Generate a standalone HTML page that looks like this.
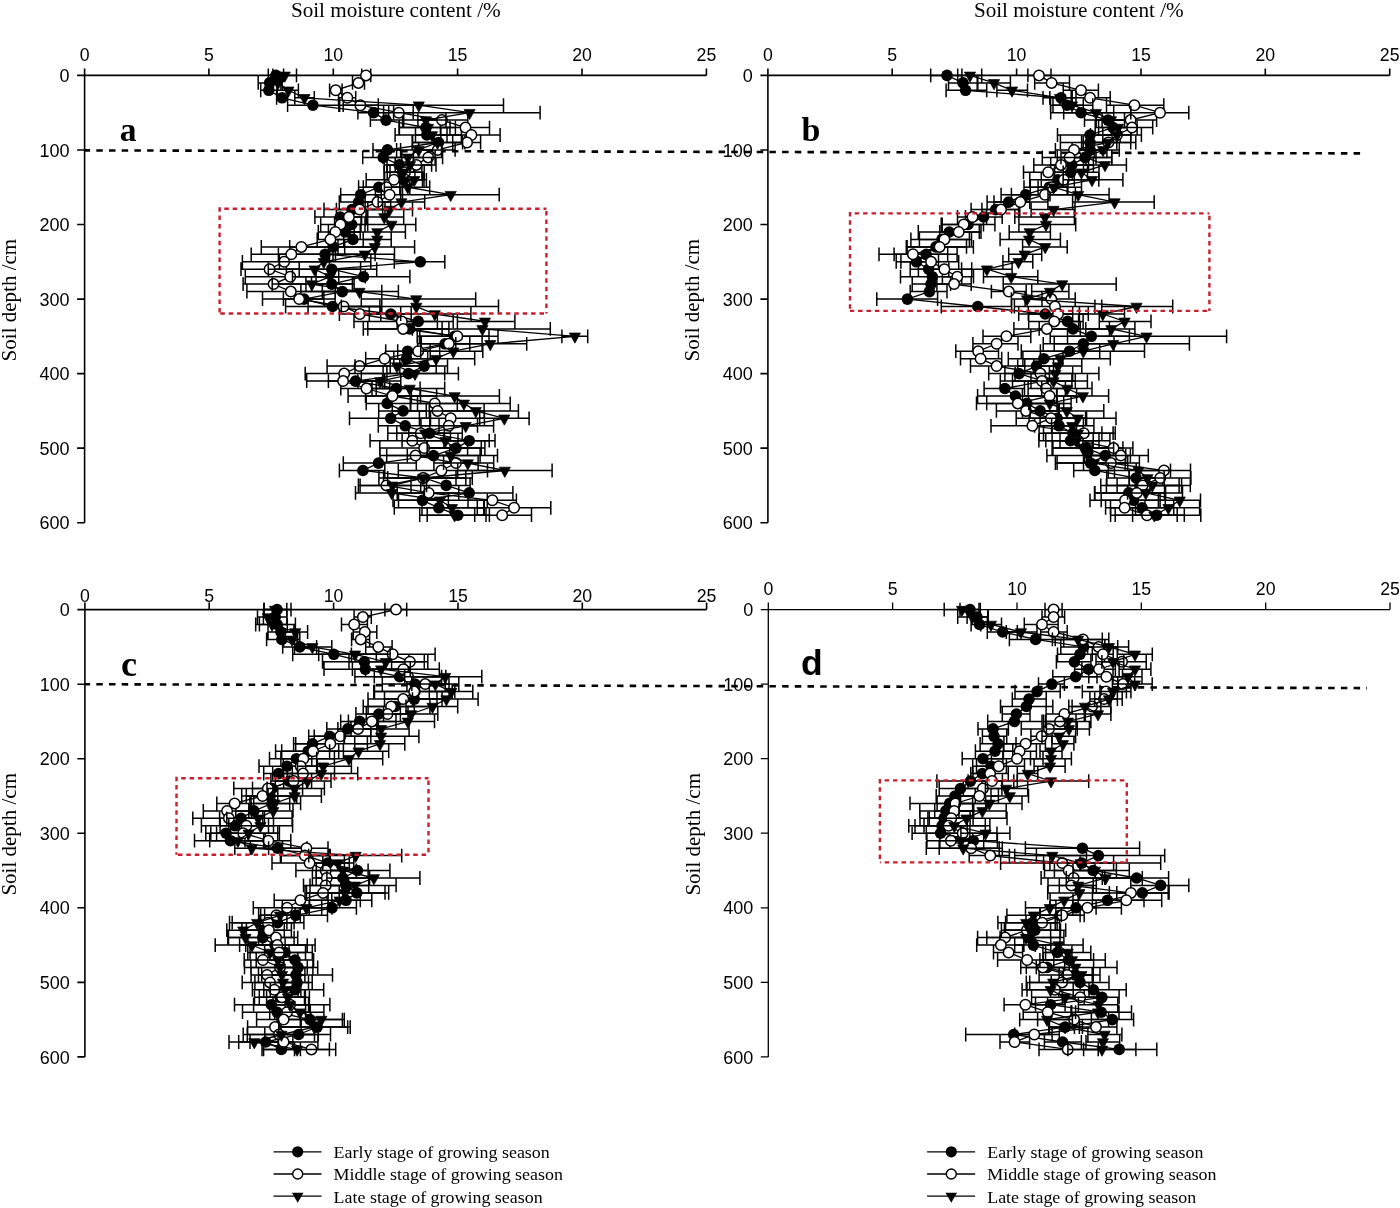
<!DOCTYPE html><html><head><meta charset="utf-8"><style>html,body{margin:0;padding:0;background:#fff;}svg{display:block;will-change:transform}</style></head><body>
<svg width="1400" height="1208" viewBox="0 0 1400 1208">
<rect width="1400" height="1208" fill="#fff"/>
<text x="290.9" y="16.6" font-family='"Liberation Serif", serif' font-size="21.2" textLength="209.8" lengthAdjust="spacingAndGlyphs">Soil moisture content /%</text>
<text x="973.9" y="16.6" font-family='"Liberation Serif", serif' font-size="21.2" textLength="209.8" lengthAdjust="spacingAndGlyphs">Soil moisture content /%</text>
<path d="M77.1 75.4H706.4M84.6 68.4V522.7" stroke="#000" stroke-width="1.6" fill="none"/>
<path d="M208.9 75.4V68.4M333.3 75.4V68.4M457.6 75.4V68.4M582 75.4V68.4M706.4 75.4V68.4M84.6 150H77.1M84.6 224.5H77.1M84.6 299.1H77.1M84.6 373.6H77.1M84.6 448.1H77.1M84.6 522.7H77.1" stroke="#000" stroke-width="1.6" fill="none"/>
<text x="84.6" y="60.7" font-family='"Liberation Sans", sans-serif' font-size="17.7" text-anchor="middle">0</text>
<text x="208.9" y="60.7" font-family='"Liberation Sans", sans-serif' font-size="17.7" text-anchor="middle">5</text>
<text x="333.3" y="60.7" font-family='"Liberation Sans", sans-serif' font-size="17.7" text-anchor="middle">10</text>
<text x="457.6" y="60.7" font-family='"Liberation Sans", sans-serif' font-size="17.7" text-anchor="middle">15</text>
<text x="582" y="60.7" font-family='"Liberation Sans", sans-serif' font-size="17.7" text-anchor="middle">20</text>
<text x="706.4" y="60.7" font-family='"Liberation Sans", sans-serif' font-size="17.7" text-anchor="middle">25</text>
<text x="69.5" y="82" font-family='"Liberation Sans", sans-serif' font-size="18" text-anchor="end">0</text>
<text x="69.5" y="156.6" font-family='"Liberation Sans", sans-serif' font-size="18" text-anchor="end">100</text>
<text x="69.5" y="231.1" font-family='"Liberation Sans", sans-serif' font-size="18" text-anchor="end">200</text>
<text x="69.5" y="305.7" font-family='"Liberation Sans", sans-serif' font-size="18" text-anchor="end">300</text>
<text x="69.5" y="380.2" font-family='"Liberation Sans", sans-serif' font-size="18" text-anchor="end">400</text>
<text x="69.5" y="454.8" font-family='"Liberation Sans", sans-serif' font-size="18" text-anchor="end">500</text>
<text x="69.5" y="529.3" font-family='"Liberation Sans", sans-serif' font-size="18" text-anchor="end">600</text>
<text transform="translate(15.9,361.4) rotate(-90)" font-family='"Liberation Serif", serif' font-size="21.3" textLength="122.6" lengthAdjust="spacingAndGlyphs">Soil depth /cm</text>
<path d="M760.4 75.4H1389.7M767.9 68.4V522.7" stroke="#000" stroke-width="1.6" fill="none"/>
<path d="M892.2 75.4V68.4M1016.6 75.4V68.4M1141 75.4V68.4M1265.3 75.4V68.4M1389.7 75.4V68.4M767.9 150H760.4M767.9 224.5H760.4M767.9 299.1H760.4M767.9 373.6H760.4M767.9 448.1H760.4M767.9 522.7H760.4" stroke="#000" stroke-width="1.6" fill="none"/>
<text x="767.9" y="60.7" font-family='"Liberation Sans", sans-serif' font-size="17.7" text-anchor="middle">0</text>
<text x="892.2" y="60.7" font-family='"Liberation Sans", sans-serif' font-size="17.7" text-anchor="middle">5</text>
<text x="1016.6" y="60.7" font-family='"Liberation Sans", sans-serif' font-size="17.7" text-anchor="middle">10</text>
<text x="1141" y="60.7" font-family='"Liberation Sans", sans-serif' font-size="17.7" text-anchor="middle">15</text>
<text x="1265.3" y="60.7" font-family='"Liberation Sans", sans-serif' font-size="17.7" text-anchor="middle">20</text>
<text x="1389.7" y="60.7" font-family='"Liberation Sans", sans-serif' font-size="17.7" text-anchor="middle">25</text>
<text x="752.8" y="82" font-family='"Liberation Sans", sans-serif' font-size="18" text-anchor="end">0</text>
<text x="752.8" y="156.6" font-family='"Liberation Sans", sans-serif' font-size="18" text-anchor="end">100</text>
<text x="752.8" y="231.1" font-family='"Liberation Sans", sans-serif' font-size="18" text-anchor="end">200</text>
<text x="752.8" y="305.7" font-family='"Liberation Sans", sans-serif' font-size="18" text-anchor="end">300</text>
<text x="752.8" y="380.2" font-family='"Liberation Sans", sans-serif' font-size="18" text-anchor="end">400</text>
<text x="752.8" y="454.8" font-family='"Liberation Sans", sans-serif' font-size="18" text-anchor="end">500</text>
<text x="752.8" y="529.3" font-family='"Liberation Sans", sans-serif' font-size="18" text-anchor="end">600</text>
<text transform="translate(699.2,361.4) rotate(-90)" font-family='"Liberation Serif", serif' font-size="21.3" textLength="122.6" lengthAdjust="spacingAndGlyphs">Soil depth /cm</text>
<path d="M77.4 609.6H706.6M84.9 602.6V1056.9" stroke="#000" stroke-width="1.6" fill="none"/>
<path d="M209.2 609.6V602.6M333.6 609.6V602.6M458 609.6V602.6M582.3 609.6V602.6M706.6 609.6V602.6M84.9 684.2H77.4M84.9 758.7H77.4M84.9 833.2H77.4M84.9 907.8H77.4M84.9 982.4H77.4M84.9 1056.9H77.4" stroke="#000" stroke-width="1.6" fill="none"/>
<text x="84.9" y="602.1" font-family='"Liberation Sans", sans-serif' font-size="17.7" text-anchor="middle">0</text>
<text x="209.2" y="602.1" font-family='"Liberation Sans", sans-serif' font-size="17.7" text-anchor="middle">5</text>
<text x="333.6" y="602.1" font-family='"Liberation Sans", sans-serif' font-size="17.7" text-anchor="middle">10</text>
<text x="458" y="602.1" font-family='"Liberation Sans", sans-serif' font-size="17.7" text-anchor="middle">15</text>
<text x="582.3" y="602.1" font-family='"Liberation Sans", sans-serif' font-size="17.7" text-anchor="middle">20</text>
<text x="706.6" y="602.1" font-family='"Liberation Sans", sans-serif' font-size="17.7" text-anchor="middle">25</text>
<text x="69.8" y="616.2" font-family='"Liberation Sans", sans-serif' font-size="18" text-anchor="end">0</text>
<text x="69.8" y="690.8" font-family='"Liberation Sans", sans-serif' font-size="18" text-anchor="end">100</text>
<text x="69.8" y="765.3" font-family='"Liberation Sans", sans-serif' font-size="18" text-anchor="end">200</text>
<text x="69.8" y="839.9" font-family='"Liberation Sans", sans-serif' font-size="18" text-anchor="end">300</text>
<text x="69.8" y="914.4" font-family='"Liberation Sans", sans-serif' font-size="18" text-anchor="end">400</text>
<text x="69.8" y="989" font-family='"Liberation Sans", sans-serif' font-size="18" text-anchor="end">500</text>
<text x="69.8" y="1063.5" font-family='"Liberation Sans", sans-serif' font-size="18" text-anchor="end">600</text>
<text transform="translate(16.2,895.6) rotate(-90)" font-family='"Liberation Serif", serif' font-size="21.3" textLength="122.6" lengthAdjust="spacingAndGlyphs">Soil depth /cm</text>
<path d="M760.8 609.6H1390M768.3 602.6V1056.9" stroke="#000" stroke-width="1.3" fill="none"/>
<path d="M892.6 609.6V602.6M1017 609.6V602.6M1141.3 609.6V602.6M1265.7 609.6V602.6M1390 609.6V602.6M768.3 684.2H760.8M768.3 758.7H760.8M768.3 833.2H760.8M768.3 907.8H760.8M768.3 982.4H760.8M768.3 1056.9H760.8" stroke="#000" stroke-width="1.3" fill="none"/>
<text x="768.3" y="595.3" font-family='"Liberation Sans", sans-serif' font-size="17.7" text-anchor="middle">0</text>
<text x="892.6" y="595.3" font-family='"Liberation Sans", sans-serif' font-size="17.7" text-anchor="middle">5</text>
<text x="1017" y="595.3" font-family='"Liberation Sans", sans-serif' font-size="17.7" text-anchor="middle">10</text>
<text x="1141.3" y="595.3" font-family='"Liberation Sans", sans-serif' font-size="17.7" text-anchor="middle">15</text>
<text x="1265.7" y="595.3" font-family='"Liberation Sans", sans-serif' font-size="17.7" text-anchor="middle">20</text>
<text x="1390" y="595.3" font-family='"Liberation Sans", sans-serif' font-size="17.7" text-anchor="middle">25</text>
<text x="753.2" y="616.2" font-family='"Liberation Sans", sans-serif' font-size="18" text-anchor="end">0</text>
<text x="753.2" y="690.8" font-family='"Liberation Sans", sans-serif' font-size="18" text-anchor="end">100</text>
<text x="753.2" y="765.3" font-family='"Liberation Sans", sans-serif' font-size="18" text-anchor="end">200</text>
<text x="753.2" y="839.9" font-family='"Liberation Sans", sans-serif' font-size="18" text-anchor="end">300</text>
<text x="753.2" y="914.4" font-family='"Liberation Sans", sans-serif' font-size="18" text-anchor="end">400</text>
<text x="753.2" y="989" font-family='"Liberation Sans", sans-serif' font-size="18" text-anchor="end">500</text>
<text x="753.2" y="1063.5" font-family='"Liberation Sans", sans-serif' font-size="18" text-anchor="end">600</text>
<text transform="translate(699.6,895.6) rotate(-90)" font-family='"Liberation Serif", serif' font-size="21.3" textLength="122.6" lengthAdjust="spacingAndGlyphs">Soil depth /cm</text>
<path d="M85 150.4L1366 153.4" stroke="#000" stroke-width="2.6" stroke-dasharray="6.5 6.2" stroke-dashoffset="1.4" fill="none"/>
<path d="M85 684.2L1367 688.1" stroke="#000" stroke-width="2.6" stroke-dasharray="6.5 6.2" stroke-dashoffset="1.4" fill="none"/>
<path d="M268.3 75.4H283.6M268.3 68.5V82.3M283.6 68.5V82.3M258.2 82.9H280.9M258.2 76V89.8M280.9 76V89.8M260.7 90.3H277M260.7 83.4V97.2M277 83.4V97.2M276.6 97.8H287.6M276.6 90.9V104.7M287.6 90.9V104.7M287.6 105.2H339.7M287.6 98.3V112.1M339.7 98.3V112.1M357.9 112.7H388.7M357.9 105.8V119.6M388.7 105.8V119.6M370.4 120.1H402.6M370.4 113.2V127M402.6 113.2V127M399.4 127.6H450M399.4 120.7V134.5M450 120.7V134.5M395.1 135H461.4M395.1 128.1V141.9M461.4 128.1V141.9M412.6 142.5H464.8M412.6 135.6V149.4M464.8 135.6V149.4M373 149.9H400.6M373 143V156.8M400.6 143V156.8M362.7 157.4H401.9M362.7 150.5V164.3M401.9 150.5V164.3M384.3 164.9H413.6M384.3 158V171.8M413.6 158V171.8M390 172.3H414.9M390 165.4V179.2M414.9 165.4V179.2M384.6 179.8H424M384.6 172.9V186.7M424 172.9V186.7M358.6 187.2H399.8M358.6 180.3V194.1M399.8 180.3V194.1M340.7 194.7H381.3M340.7 187.8V201.6M381.3 187.8V201.6M339.3 202.1H377.1M339.3 195.2V209M377.1 195.2V209M324 209.6H382.7M324 202.7V216.5M382.7 202.7V216.5M314.9 217H366.8M314.9 210.1V223.9M366.8 210.1V223.9M334.6 224.5H367.7M334.6 217.6V231.4M367.7 217.6V231.4M328.4 232H360.2M328.4 225.1V238.9M360.2 225.1V238.9M328.6 239.4H376.7M328.6 232.5V246.3M376.7 232.5V246.3M289.7 246.9H375.5M289.7 240V253.8M375.5 240V253.8M278.4 254.3H375.1M278.4 247.4V261.2M375.1 247.4V261.2M394.3 261.8H444.8M394.3 254.9V268.7M444.8 254.9V268.7M286.4 269.2H376.7M286.4 262.3V276.1M376.7 262.3V276.1M316.1 276.7H409.9M316.1 269.8V283.6M409.9 269.8V283.6M311.5 284.1H352.4M311.5 277.2V291M352.4 277.2V291M300.9 291.6H381.8M300.9 284.7V298.5M381.8 284.7V298.5M283.4 299.1H323.9M283.4 292.2V305.9M323.9 292.2V305.9M285.6 306.5H381.8M285.6 299.6V313.4M381.8 299.6V313.4M369.3 314H411.2M369.3 307.1V320.9M411.2 307.1V320.9M397.2 321.4H437.4M397.2 314.5V328.3M437.4 314.5V328.3M367.8 328.9H448.9M367.8 322V335.8M448.9 322V335.8M419.8 336.3H489M419.8 329.4V343.2M489 329.4V343.2M421.3 343.8H469.8M421.3 336.9V350.7M469.8 336.9V350.7M385.7 351.2H430.2M385.7 344.3V358.1M430.2 344.3V358.1M385 358.7H427.7M385 351.8V365.6M427.7 351.8V365.6M399.8 366.1H447.5M399.8 359.2V373M447.5 359.2V373M361.3 373.6H458.4M361.3 366.7V380.5M458.4 366.7V380.5M328.4 381.1H384.7M328.4 374.2V388M384.7 374.2V388M372 388.5H420.1M372 381.6V395.4M420.1 381.6V395.4M348.1 396H436.6M348.1 389.1V402.9M436.6 389.1V402.9M366.2 403.4H410.3M366.2 396.5V410.3M410.3 396.5V410.3M378.7 410.9H426.3M378.7 404V417.8M426.3 404V417.8M349.5 418.3H430.5M349.5 411.4V425.2M430.5 411.4V425.2M378.3 425.8H429.8M378.3 418.9V432.7M429.8 418.9V432.7M408.8 433.2H450.5M408.8 426.3V440.1M450.5 426.3V440.1M443.9 440.7H495M443.9 433.8V447.6M495 433.8V447.6M426.8 448.1H484.9M426.8 441.2V455M484.9 441.2V455M386.7 455.6H480.1M386.7 448.7V462.5M480.1 448.7V462.5M343.3 463.1H416.3M343.3 456.2V470M416.3 456.2V470M339.4 470.5H384.8M339.4 463.6V477.4M384.8 463.6V477.4M378.9 478H472.3M378.9 471.1V484.9M472.3 471.1V484.9M420.7 485.4H470.1M420.7 478.5V492.3M470.1 478.5V492.3M429 492.9H512.9M429 486V499.8M512.9 486V499.8M398.5 500.3H448.4M398.5 493.4V507.2M448.4 493.4V507.2M394.3 507.8H484.2M394.3 500.9V514.7M484.2 500.9V514.7M427.2 515.2H486M427.2 508.3V522.1M486 508.3V522.1" stroke="#000" stroke-width="1.5" fill="none"/>
<path d="M275.9 75.4L269.6 82.9L268.8 90.3L282.1 97.8L312.9 105.2L373.6 112.7L386 120.1L425.9 127.6L426.8 135L438.4 142.5L387.5 149.9L383.2 157.4L399.3 164.9L402.5 172.3L403.6 179.8L378.9 187.2L360.7 194.7L358.6 202.1L352 209.6L340.3 217L351.6 224.5L345 232L352.9 239.4L333.1 246.9L325.1 254.3L420.3 261.8L331.7 269.2L363.5 276.7L331.7 284.1L342.3 291.6L304 299.1L332.5 306.5L390.8 314L418.2 321.4L409.7 328.9L454.6 336.3L445 343.8L407.6 351.2L406.5 358.7L424.2 366.1L408.4 373.6L355.5 381.1L396.3 388.5L391.7 396L387.2 403.4L403.1 410.9L390.7 418.3L405.2 425.8L429.5 433.2L469.2 440.7L456 448.1L433.5 455.6L378.5 463.1L362.9 470.5L424.2 478L446.2 485.4L469.2 492.9L422.4 500.3L438.8 507.8L457.8 515.2" stroke="#000" stroke-width="1.3" fill="none"/>
<circle cx="275.9" cy="75.4" r="5.8"/><circle cx="269.6" cy="82.9" r="5.8"/><circle cx="268.8" cy="90.3" r="5.8"/><circle cx="282.1" cy="97.8" r="5.8"/><circle cx="312.9" cy="105.2" r="5.8"/><circle cx="373.6" cy="112.7" r="5.8"/><circle cx="386" cy="120.1" r="5.8"/><circle cx="425.9" cy="127.6" r="5.8"/><circle cx="426.8" cy="135" r="5.8"/><circle cx="438.4" cy="142.5" r="5.8"/><circle cx="387.5" cy="149.9" r="5.8"/><circle cx="383.2" cy="157.4" r="5.8"/><circle cx="399.3" cy="164.9" r="5.8"/><circle cx="402.5" cy="172.3" r="5.8"/><circle cx="403.6" cy="179.8" r="5.8"/><circle cx="378.9" cy="187.2" r="5.8"/><circle cx="360.7" cy="194.7" r="5.8"/><circle cx="358.6" cy="202.1" r="5.8"/><circle cx="352" cy="209.6" r="5.8"/><circle cx="340.3" cy="217" r="5.8"/><circle cx="351.6" cy="224.5" r="5.8"/><circle cx="345" cy="232" r="5.8"/><circle cx="352.9" cy="239.4" r="5.8"/><circle cx="333.1" cy="246.9" r="5.8"/><circle cx="325.1" cy="254.3" r="5.8"/><circle cx="420.3" cy="261.8" r="5.8"/><circle cx="331.7" cy="269.2" r="5.8"/><circle cx="363.5" cy="276.7" r="5.8"/><circle cx="331.7" cy="284.1" r="5.8"/><circle cx="342.3" cy="291.6" r="5.8"/><circle cx="304" cy="299.1" r="5.8"/><circle cx="332.5" cy="306.5" r="5.8"/><circle cx="390.8" cy="314" r="5.8"/><circle cx="418.2" cy="321.4" r="5.8"/><circle cx="409.7" cy="328.9" r="5.8"/><circle cx="454.6" cy="336.3" r="5.8"/><circle cx="445" cy="343.8" r="5.8"/><circle cx="407.6" cy="351.2" r="5.8"/><circle cx="406.5" cy="358.7" r="5.8"/><circle cx="424.2" cy="366.1" r="5.8"/><circle cx="408.4" cy="373.6" r="5.8"/><circle cx="355.5" cy="381.1" r="5.8"/><circle cx="396.3" cy="388.5" r="5.8"/><circle cx="391.7" cy="396" r="5.8"/><circle cx="387.2" cy="403.4" r="5.8"/><circle cx="403.1" cy="410.9" r="5.8"/><circle cx="390.7" cy="418.3" r="5.8"/><circle cx="405.2" cy="425.8" r="5.8"/><circle cx="429.5" cy="433.2" r="5.8"/><circle cx="469.2" cy="440.7" r="5.8"/><circle cx="456" cy="448.1" r="5.8"/><circle cx="433.5" cy="455.6" r="5.8"/><circle cx="378.5" cy="463.1" r="5.8"/><circle cx="362.9" cy="470.5" r="5.8"/><circle cx="424.2" cy="478" r="5.8"/><circle cx="446.2" cy="485.4" r="5.8"/><circle cx="469.2" cy="492.9" r="5.8"/><circle cx="422.4" cy="500.3" r="5.8"/><circle cx="438.8" cy="507.8" r="5.8"/><circle cx="457.8" cy="515.2" r="5.8"/>
<path d="M361.7 75.4H370.7M361.7 68.5V82.3M370.7 68.5V82.3M352.5 82.9H364.5M352.5 76V89.8M364.5 76V89.8M329.6 90.3H342.1M329.6 83.4V97.2M342.1 83.4V97.2M338.5 97.8H355.7M338.5 90.9V104.7M355.7 90.9V104.7M343.2 105.2H378.3M343.2 98.3V112.1M378.3 98.3V112.1M383.6 112.7H413.2M383.6 105.8V119.6M413.2 105.8V119.6M417.9 120.1H467.8M417.9 113.2V127M467.8 113.2V127M440.4 127.6H489.5M440.4 120.7V134.5M489.5 120.7V134.5M440.9 135H500.1M440.9 128.1V141.9M500.1 128.1V141.9M452.7 142.5H480.6M452.7 135.6V149.4M480.6 135.6V149.4M418.6 149.9H455.1M418.6 143V156.8M455.1 143V156.8M413.4 157.4H442.6M413.4 150.5V164.3M442.6 150.5V164.3M395.2 164.9H436M395.2 158V171.8M436 158V171.8M387.2 172.3H424.2M387.2 165.4V179.2M424.2 165.4V179.2M366.2 179.8H422.5M366.2 172.9V186.7M422.5 172.9V186.7M363.3 187.2H409.8M363.3 180.3V194.1M409.8 180.3V194.1M375.4 194.7H402.5M375.4 187.8V201.6M402.5 187.8V201.6M365.1 202.1H390.7M365.1 195.2V209M390.7 195.2V209M336.4 209.6H385M336.4 202.7V216.5M385 202.7V216.5M336.6 217H361.6M336.6 210.1V223.9M361.6 210.1V223.9M320.7 224.5H361M320.7 217.6V231.4M361 217.6V231.4M318.3 232H354.2M318.3 225.1V238.9M354.2 225.1V238.9M317.2 239.4H343.7M317.2 232.5V246.3M343.7 232.5V246.3M261.3 246.9H344.7M261.3 240V253.8M344.7 240V253.8M251.2 254.3H333M251.2 247.4V261.2M333 247.4V261.2M242.4 261.8H329.5M242.4 254.9V268.7M329.5 254.9V268.7M241 269.2H299.2M241 262.3V276.1M299.2 262.3V276.1M245.3 276.7H338.7M245.3 269.8V283.6M338.7 269.8V283.6M243.1 284.1H305.9M243.1 277.2V291M305.9 277.2V291M246.9 291.6H335.3M246.9 284.7V298.5M335.3 284.7V298.5M262.5 299.1H335.1M262.5 292.2V305.9M335.1 292.2V305.9M308.1 306.5H379.9M308.1 299.6V313.4M379.9 299.6V313.4M339.4 314H380.8M339.4 307.1V320.9M380.8 307.1V320.9M354 321.4H453.2M354 314.5V328.3M453.2 314.5V328.3M363.3 328.9H442.1M363.3 322V335.8M442.1 322V335.8M417.2 336.3H498M417.2 329.4V343.2M498 329.4V343.2M417.6 343.8H482.1M417.6 336.9V350.7M482.1 336.9V350.7M397.7 351.2H439.7M397.7 344.3V358.1M439.7 344.3V358.1M365.7 358.7H403.9M365.7 351.8V365.6M403.9 351.8V365.6M327.1 366.1H390.2M327.1 359.2V373M390.2 359.2V373M305.2 373.6H383.1M305.2 366.7V380.5M383.1 366.7V380.5M306.7 381.1H382.6M306.7 374.2V388M382.6 374.2V388M340.8 388.5H389.7M340.8 381.6V395.4M389.7 381.6V395.4M365.5 396H420.5M365.5 389.1V402.9M420.5 389.1V402.9M410.7 403.4H457.3M410.7 396.5V410.3M457.3 396.5V410.3M392.3 410.9H484.1M392.3 404V417.8M484.1 404V417.8M419.4 418.3H484.4M419.4 411.4V425.2M484.4 411.4V425.2M421 425.8H477.5M421 418.9V432.7M477.5 418.9V432.7M396.8 433.2H444.4M396.8 426.3V440.1M444.4 426.3V440.1M370.1 440.7H458M370.1 433.8V447.6M458 433.8V447.6M379.8 448.1H467.6M379.8 441.2V455M467.6 441.2V455M380 455.6H449.7M380 448.7V462.5M449.7 448.7V462.5M433.9 463.1H478.1M433.9 456.2V470M478.1 456.2V470M398.3 470.5H487.5M398.3 463.6V477.4M487.5 463.6V477.4M383.6 478H465.8M383.6 471.1V484.9M465.8 471.1V484.9M360.1 485.4H411M360.1 478.5V492.3M411 478.5V492.3M397.2 492.9H458.8M397.2 486V499.8M458.8 486V499.8M468 500.3H516.4M468 493.4V507.2M516.4 493.4V507.2M477.3 507.8H550.8M477.3 500.9V514.7M550.8 500.9V514.7M474.7 515.2H531.5M474.7 508.3V522.1M531.5 508.3V522.1" stroke="#000" stroke-width="1.5" fill="none"/>
<path d="M366 75.4L358.4 82.9L335.7 90.3L347.3 97.8L360.4 105.2L398.8 112.7L442 120.1L465.5 127.6L471.4 135L467 142.5L437.7 149.9L428.2 157.4L416.4 164.9L405 172.3L393.9 179.8L386.4 187.2L389.6 194.7L377.4 202.1L359.6 209.6L348.9 217L340.4 224.5L335.4 232L330.4 239.4L301.4 246.9L291.3 254.3L284.2 261.8L269.6 269.2L290.3 276.7L273.6 284.1L290.8 291.6L299.2 299.1L343.6 306.5L359.8 314L401.8 321.4L403.1 328.9L457.3 336.3L448.8 343.8L418.2 351.2L384.6 358.7L359.5 366.1L344.2 373.6L343.1 381.1L366.5 388.5L392.5 396L434.8 403.4L437.5 410.9L450.7 418.3L448.8 425.8L420.8 433.2L412.3 440.7L424.2 448.1L415.5 455.6L456 463.1L441.4 470.5L422.9 478L386.4 485.4L428.7 492.9L492.4 500.3L514.1 507.8L502.2 515.2" stroke="#000" stroke-width="1.3" fill="none"/>
<g fill="#fff" stroke="#000" stroke-width="1.5"><circle cx="366" cy="75.4" r="5.25"/><circle cx="358.4" cy="82.9" r="5.25"/><circle cx="335.7" cy="90.3" r="5.25"/><circle cx="347.3" cy="97.8" r="5.25"/><circle cx="360.4" cy="105.2" r="5.25"/><circle cx="398.8" cy="112.7" r="5.25"/><circle cx="442" cy="120.1" r="5.25"/><circle cx="465.5" cy="127.6" r="5.25"/><circle cx="471.4" cy="135" r="5.25"/><circle cx="467" cy="142.5" r="5.25"/><circle cx="437.7" cy="149.9" r="5.25"/><circle cx="428.2" cy="157.4" r="5.25"/><circle cx="416.4" cy="164.9" r="5.25"/><circle cx="405" cy="172.3" r="5.25"/><circle cx="393.9" cy="179.8" r="5.25"/><circle cx="386.4" cy="187.2" r="5.25"/><circle cx="389.6" cy="194.7" r="5.25"/><circle cx="377.4" cy="202.1" r="5.25"/><circle cx="359.6" cy="209.6" r="5.25"/><circle cx="348.9" cy="217" r="5.25"/><circle cx="340.4" cy="224.5" r="5.25"/><circle cx="335.4" cy="232" r="5.25"/><circle cx="330.4" cy="239.4" r="5.25"/><circle cx="301.4" cy="246.9" r="5.25"/><circle cx="291.3" cy="254.3" r="5.25"/><circle cx="284.2" cy="261.8" r="5.25"/><circle cx="269.6" cy="269.2" r="5.25"/><circle cx="290.3" cy="276.7" r="5.25"/><circle cx="273.6" cy="284.1" r="5.25"/><circle cx="290.8" cy="291.6" r="5.25"/><circle cx="299.2" cy="299.1" r="5.25"/><circle cx="343.6" cy="306.5" r="5.25"/><circle cx="359.8" cy="314" r="5.25"/><circle cx="401.8" cy="321.4" r="5.25"/><circle cx="403.1" cy="328.9" r="5.25"/><circle cx="457.3" cy="336.3" r="5.25"/><circle cx="448.8" cy="343.8" r="5.25"/><circle cx="418.2" cy="351.2" r="5.25"/><circle cx="384.6" cy="358.7" r="5.25"/><circle cx="359.5" cy="366.1" r="5.25"/><circle cx="344.2" cy="373.6" r="5.25"/><circle cx="343.1" cy="381.1" r="5.25"/><circle cx="366.5" cy="388.5" r="5.25"/><circle cx="392.5" cy="396" r="5.25"/><circle cx="434.8" cy="403.4" r="5.25"/><circle cx="437.5" cy="410.9" r="5.25"/><circle cx="450.7" cy="418.3" r="5.25"/><circle cx="448.8" cy="425.8" r="5.25"/><circle cx="420.8" cy="433.2" r="5.25"/><circle cx="412.3" cy="440.7" r="5.25"/><circle cx="424.2" cy="448.1" r="5.25"/><circle cx="415.5" cy="455.6" r="5.25"/><circle cx="456" cy="463.1" r="5.25"/><circle cx="441.4" cy="470.5" r="5.25"/><circle cx="422.9" cy="478" r="5.25"/><circle cx="386.4" cy="485.4" r="5.25"/><circle cx="428.7" cy="492.9" r="5.25"/><circle cx="492.4" cy="500.3" r="5.25"/><circle cx="514.1" cy="507.8" r="5.25"/><circle cx="502.2" cy="515.2" r="5.25"/></g>
<path d="M272.9 75.4H296.5M272.9 68.5V82.3M296.5 68.5V82.3M273.4 82.9H282.2M273.4 76V89.8M282.2 76V89.8M277.4 90.3H298.4M277.4 83.4V97.2M298.4 83.4V97.2M294.8 97.8H314.3M294.8 90.9V104.7M314.3 90.9V104.7M338.8 105.2H503.5M338.8 98.3V112.1M503.5 98.3V112.1M393.6 112.7H540.1M393.6 105.8V119.6M540.1 105.8V119.6M403.7 120.1H446M403.7 113.2V127M446 113.2V127M399.1 127.6H455.4M399.1 120.7V134.5M455.4 120.7V134.5M415.5 135H447M415.5 128.1V141.9M447 128.1V141.9M412.2 142.5H462.6M412.2 135.6V149.4M462.6 135.6V149.4M396.6 149.9H441.5M396.6 143V156.8M441.5 143V156.8M383 157.4H435.1M383 150.5V164.3M435.1 150.5V164.3M387 164.9H431.6M387 158V171.8M431.6 158V171.8M384 172.3H421.9M384 165.4V179.2M421.9 165.4V179.2M402.1 179.8H426.4M402.1 172.9V186.7M426.4 172.9V186.7M384.4 187.2H429.7M384.4 180.3V194.1M429.7 180.3V194.1M400.7 194.7H499.2M400.7 187.8V201.6M499.2 187.8V201.6M378.2 202.1H424.7M378.2 195.2V209M424.7 195.2V209M367.8 209.6H412.5M367.8 202.7V216.5M412.5 202.7V216.5M366 217H403.7M366 210.1V223.9M403.7 210.1V223.9M365 224.5H415.8M365 217.6V231.4M415.8 217.6V231.4M350.4 232H405.4M350.4 225.1V238.9M405.4 225.1V238.9M363.2 239.4H391.2M363.2 232.5V246.3M391.2 232.5V246.3M338 246.9H414.6M338 240V253.8M414.6 240V253.8M335.5 254.3H394.5M335.5 247.4V261.2M394.5 247.4V261.2M279.4 261.8H370.8M279.4 254.9V268.7M370.8 254.9V268.7M268.3 269.2H360.6M268.3 262.3V276.1M360.6 262.3V276.1M292.5 276.7H365.3M292.5 269.8V283.6M365.3 269.8V283.6M272.2 284.1H354.1M272.2 277.2V291M354.1 277.2V291M322.3 291.6H398.4M322.3 284.7V298.5M398.4 284.7V298.5M361.3 299.1H475.7M361.3 292.2V305.9M475.7 292.2V305.9M341.3 306.5H498.5M341.3 299.6V313.4M498.5 299.6V313.4M400.7 314H470.9M400.7 307.1V320.9M470.9 307.1V320.9M457.4 321.4H514.9M457.4 314.5V328.3M514.9 314.5V328.3M412.4 328.9H550.3M412.4 322V335.8M550.3 322V335.8M561.9 336.3H587.7M561.9 329.4V343.2M587.7 329.4V343.2M455.8 343.8H526.7M455.8 336.9V350.7M526.7 336.9V350.7M420.7 351.2H482.8M420.7 344.3V358.1M482.8 344.3V358.1M393.8 358.7H474.7M393.8 351.8V365.6M474.7 351.8V365.6M355 366.1H436.2M355 359.2V373M436.2 359.2V373M386.9 373.6H444.7M386.9 366.7V380.5M444.7 366.7V380.5M357.9 381.1H400.8M357.9 374.2V388M400.8 374.2V388M376.2 388.5H444.7M376.2 381.6V395.4M444.7 381.6V395.4M411.4 396H499.4M411.4 389.1V402.9M499.4 389.1V402.9M417.5 403.4H510.2M417.5 396.5V410.3M510.2 396.5V410.3M429.3 410.9H518.4M429.3 404V417.8M518.4 404V417.8M479.7 418.3H529.1M479.7 411.4V425.2M529.1 411.4V425.2M439 425.8H493.6M439 418.9V432.7M493.6 418.9V432.7M387.8 433.2H462.3M387.8 426.3V440.1M462.3 426.3V440.1M402.1 440.7H489.2M402.1 433.8V447.6M489.2 433.8V447.6M427.2 448.1H481.3M427.2 441.2V455M481.3 441.2V455M407.3 455.6H497.5M407.3 448.7V462.5M497.5 448.7V462.5M443.6 463.1H493.7M443.6 456.2V470M493.7 456.2V470M457.7 470.5H552.1M457.7 463.6V477.4M552.1 463.6V477.4M387.7 478H456M387.7 471.1V484.9M456 471.1V484.9M358.4 485.4H426.6M358.4 478.5V492.3M426.6 478.5V492.3M355.5 492.9H424.4M355.5 486V499.8M424.4 486V499.8M393 500.3H487.3M393 493.4V507.2M487.3 493.4V507.2M422 507.8H483.8M422 500.9V514.7M483.8 500.9V514.7M419.7 515.2H489.4M419.7 508.3V522.1M489.4 508.3V522.1" stroke="#000" stroke-width="1.5" fill="none"/>
<path d="M284.8 75.4L278 82.9L288.4 90.3L304.5 97.8L418.8 105.2L469.6 112.7L425.9 120.1L428 127.6L432 135L437.5 142.5L418.7 149.9L407.9 157.4L410 164.9L403.6 172.3L414.3 179.8L407.8 187.2L450.7 194.7L401.4 202.1L389.6 209.6L384.3 217L391.5 224.5L377.3 232L377.3 239.4L374.8 246.9L364.8 254.3L323.8 261.8L314.6 269.2L330 276.7L311.9 284.1L359.5 291.6L416.3 299.1L416.3 306.5L434.8 314L485 321.4L482.4 328.9L574.9 336.3L490.3 343.8L453.3 351.2L436.1 358.7L397 366.1L415 373.6L380.1 381.1L409.7 388.5L454.6 396L463.9 403.4L475.8 410.9L504.3 418.3L465.7 425.8L425 433.2L445.4 440.7L454.6 448.1L450.7 455.6L467.8 463.1L504.8 470.5L422.9 478L392.5 485.4L391.7 492.9L440.1 500.3L452 507.8L454.6 515.2" stroke="#000" stroke-width="1.3" fill="none"/>
<g stroke="#000" stroke-width="0.7" stroke-linejoin="round"><path d="M279.2 72.1H290.4L284.8 82.3Z"/><path d="M272.4 79.6H283.6L278 89.8Z"/><path d="M282.8 87H294L288.4 97.2Z"/><path d="M298.9 94.5H310.1L304.5 104.7Z"/><path d="M413.2 101.9H424.4L418.8 112.1Z"/><path d="M464 109.4H475.2L469.6 119.6Z"/><path d="M420.3 116.8H431.5L425.9 127Z"/><path d="M422.4 124.3H433.6L428 134.5Z"/><path d="M426.4 131.7H437.6L432 141.9Z"/><path d="M431.9 139.2H443.1L437.5 149.4Z"/><path d="M413.1 146.6H424.3L418.7 156.8Z"/><path d="M402.3 154.1H413.5L407.9 164.3Z"/><path d="M404.4 161.6H415.6L410 171.8Z"/><path d="M398 169H409.2L403.6 179.2Z"/><path d="M408.7 176.5H419.9L414.3 186.7Z"/><path d="M402.2 183.9H413.4L407.8 194.1Z"/><path d="M445.1 191.4H456.3L450.7 201.6Z"/><path d="M395.8 198.8H407L401.4 209Z"/><path d="M384 206.3H395.2L389.6 216.5Z"/><path d="M378.7 213.7H389.9L384.3 223.9Z"/><path d="M385.9 221.2H397.1L391.5 231.4Z"/><path d="M371.7 228.7H382.9L377.3 238.9Z"/><path d="M371.7 236.1H382.9L377.3 246.3Z"/><path d="M369.2 243.6H380.4L374.8 253.8Z"/><path d="M359.2 251H370.4L364.8 261.2Z"/><path d="M318.2 258.5H329.4L323.8 268.7Z"/><path d="M309 265.9H320.2L314.6 276.1Z"/><path d="M324.4 273.4H335.6L330 283.6Z"/><path d="M306.3 280.8H317.5L311.9 291Z"/><path d="M353.9 288.3H365.1L359.5 298.5Z"/><path d="M410.7 295.8H421.9L416.3 305.9Z"/><path d="M410.7 303.2H421.9L416.3 313.4Z"/><path d="M429.2 310.7H440.4L434.8 320.9Z"/><path d="M479.4 318.1H490.6L485 328.3Z"/><path d="M476.8 325.6H488L482.4 335.8Z"/><path d="M569.3 333H580.5L574.9 343.2Z"/><path d="M484.7 340.5H495.9L490.3 350.7Z"/><path d="M447.7 347.9H458.9L453.3 358.1Z"/><path d="M430.5 355.4H441.7L436.1 365.6Z"/><path d="M391.4 362.8H402.6L397 373Z"/><path d="M409.4 370.3H420.6L415 380.5Z"/><path d="M374.5 377.8H385.7L380.1 388Z"/><path d="M404.1 385.2H415.3L409.7 395.4Z"/><path d="M449 392.7H460.2L454.6 402.9Z"/><path d="M458.3 400.1H469.5L463.9 410.3Z"/><path d="M470.2 407.6H481.4L475.8 417.8Z"/><path d="M498.7 415H509.9L504.3 425.2Z"/><path d="M460.1 422.5H471.3L465.7 432.7Z"/><path d="M419.4 429.9H430.6L425 440.1Z"/><path d="M439.8 437.4H451L445.4 447.6Z"/><path d="M449 444.8H460.2L454.6 455Z"/><path d="M445.1 452.3H456.3L450.7 462.5Z"/><path d="M462.2 459.8H473.4L467.8 470Z"/><path d="M499.2 467.2H510.4L504.8 477.4Z"/><path d="M417.3 474.7H428.5L422.9 484.9Z"/><path d="M386.9 482.1H398.1L392.5 492.3Z"/><path d="M386.1 489.6H397.3L391.7 499.8Z"/><path d="M434.5 497H445.7L440.1 507.2Z"/><path d="M446.4 504.5H457.6L452 514.7Z"/><path d="M449 511.9H460.2L454.6 522.1Z"/></g>
<path d="M930.7 75.4H961.9M930.7 68.5V82.3M961.9 68.5V82.3M948.5 82.9H977.2M948.5 76V89.8M977.2 76V89.8M946.1 90.3H986.7M946.1 83.4V97.2M986.7 83.4V97.2M1049.8 97.8H1072.2M1049.8 90.9V104.7M1072.2 90.9V104.7M1050.5 105.2H1083.3M1050.5 98.3V112.1M1083.3 98.3V112.1M1050.7 112.7H1113.7M1050.7 105.8V119.6M1113.7 105.8V119.6M1084.5 120.1H1130.7M1084.5 113.2V127M1130.7 113.2V127M1095.2 127.6H1131.2M1095.2 120.7V134.5M1131.2 120.7V134.5M1057.5 135H1120.1M1057.5 128.1V141.9M1120.1 128.1V141.9M1060.4 142.5H1116.8M1060.4 135.6V149.4M1116.8 135.6V149.4M1072.1 149.9H1106.9M1072.1 143V156.8M1106.9 143V156.8M1057.3 157.4H1111.8M1057.3 150.5V164.3M1111.8 150.5V164.3M1050.7 164.9H1093.4M1050.7 158V171.8M1093.4 158V171.8M1054.6 172.3H1087.5M1054.6 165.4V179.2M1087.5 165.4V179.2M1041.3 179.8H1074.3M1041.3 172.9V186.7M1074.3 172.9V186.7M1030.3 187.2H1067.2M1030.3 180.3V194.1M1067.2 180.3V194.1M1001.1 194.7H1050M1001.1 187.8V201.6M1050 187.8V201.6M987.1 202.1H1029.7M987.1 195.2V209M1029.7 195.2V209M971.1 209.6H1018.6M971.1 202.7V216.5M1018.6 202.7V216.5M965.5 217H1002.2M965.5 210.1V223.9M1002.2 210.1V223.9M941.2 224.5H994.9M941.2 217.6V231.4M994.9 217.6V231.4M918.3 232H981M918.3 225.1V238.9M981 225.1V238.9M910.9 239.4H971.5M910.9 232.5V246.3M971.5 232.5V246.3M907.1 246.9H966.5M907.1 240V253.8M966.5 240V253.8M894.1 254.3H957.1M894.1 247.4V261.2M957.1 247.4V261.2M896.2 261.8H938.5M896.2 254.9V268.7M938.5 254.9V268.7M910.2 269.2H948.8M910.2 262.3V276.1M948.8 262.3V276.1M900.5 276.7H961.7M900.5 269.8V283.6M961.7 269.8V283.6M912.2 284.1H950.6M912.2 277.2V291M950.6 277.2V291M910.2 291.6H947M910.2 284.7V298.5M947 284.7V298.5M876.8 299.1H937.6M876.8 292.2V305.9M937.6 292.2V305.9M941.3 306.5H1011.6M941.3 299.6V313.4M1011.6 299.6V313.4M1018.7 314H1072.7M1018.7 307.1V320.9M1072.7 307.1V320.9M1051.1 321.4H1083.1M1051.1 314.5V328.3M1083.1 314.5V328.3M1039.2 328.9H1109.4M1039.2 322V335.8M1109.4 322V335.8M1050.2 336.3H1129.4M1050.2 329.4V343.2M1129.4 329.4V343.2M1054.2 343.8H1114M1054.2 336.9V350.7M1114 336.9V350.7M1040.4 351.2H1099.7M1040.4 344.3V358.1M1099.7 344.3V358.1M1022.9 358.7H1062.9M1022.9 351.8V365.6M1062.9 351.8V365.6M1017.7 366.1H1053.5M1017.7 359.2V373M1053.5 359.2V373M988.7 373.6H1049.4M988.7 366.7V380.5M1049.4 366.7V380.5M1012.5 381.1H1071.9M1012.5 374.2V388M1071.9 374.2V388M984.1 388.5H1024.5M984.1 381.6V395.4M1024.5 381.6V395.4M977.6 396H1057M977.6 389.1V402.9M1057 389.1V402.9M986.7 403.4H1063.7M986.7 396.5V410.3M1063.7 396.5V410.3M1022.5 410.9H1059.3M1022.5 404V417.8M1059.3 404V417.8M1029.1 418.3H1086.6M1029.1 411.4V425.2M1086.6 411.4V425.2M1034.6 425.8H1083.4M1034.6 418.9V432.7M1083.4 418.9V432.7M1043.5 433.2H1101.9M1043.5 426.3V440.1M1101.9 426.3V440.1M1038.9 440.7H1099M1038.9 433.8V447.6M1099 433.8V447.6M1052.1 448.1H1122.9M1052.1 441.2V455M1122.9 441.2V455M1084.5 455.6H1125.7M1084.5 448.7V462.5M1125.7 448.7V462.5M1055.4 463.1H1125.2M1055.4 456.2V470M1125.2 456.2V470M1073.7 470.5H1114.5M1073.7 463.6V477.4M1114.5 463.6V477.4M1106.8 478H1162.6M1106.8 471.1V484.9M1162.6 471.1V484.9M1100.8 485.4H1181.6M1100.8 478.5V492.3M1181.6 478.5V492.3M1094.5 492.9H1165.6M1094.5 486V499.8M1165.6 486V499.8M1101.2 500.3H1165.3M1101.2 493.4V507.2M1165.3 493.4V507.2M1110.5 507.8H1173.7M1110.5 500.9V514.7M1173.7 500.9V514.7M1115.2 515.2H1200.8M1115.2 508.3V522.1M1200.8 508.3V522.1" stroke="#000" stroke-width="1.5" fill="none"/>
<path d="M947 75.4L963 82.9L965.6 90.3L1061 97.8L1067 105.2L1081 112.7L1108 120.1L1113 127.6L1090 135L1090 142.5L1090 149.9L1085 157.4L1071.8 164.9L1070.7 172.3L1057.8 179.8L1049.3 187.2L1025.7 194.7L1008.6 202.1L995.7 209.6L983.6 217L968 224.5L949.3 232L942 239.4L935.9 246.9L926.2 254.3L916.5 261.8L928.6 269.2L932.3 276.7L931 284.1L929.4 291.6L907.4 299.1L977.8 306.5L1045.2 314L1067.6 321.4L1072.9 328.9L1091.4 336.3L1083.3 343.8L1069.5 351.2L1043.8 358.7L1036.5 366.1L1019 373.6L1043.3 381.1L1004.9 388.5L1015.4 396L1026.8 403.4L1040.1 410.9L1057.1 418.3L1059.1 425.8L1072.9 433.2L1070.5 440.7L1086.3 448.1L1105.2 455.6L1090.6 463.1L1094.8 470.5L1136.1 478L1140 485.4L1128.8 492.9L1133.6 500.3L1142.1 507.8L1156.7 515.2" stroke="#000" stroke-width="1.3" fill="none"/>
<circle cx="947" cy="75.4" r="5.8"/><circle cx="963" cy="82.9" r="5.8"/><circle cx="965.6" cy="90.3" r="5.8"/><circle cx="1061" cy="97.8" r="5.8"/><circle cx="1067" cy="105.2" r="5.8"/><circle cx="1081" cy="112.7" r="5.8"/><circle cx="1108" cy="120.1" r="5.8"/><circle cx="1113" cy="127.6" r="5.8"/><circle cx="1090" cy="135" r="5.8"/><circle cx="1090" cy="142.5" r="5.8"/><circle cx="1090" cy="149.9" r="5.8"/><circle cx="1085" cy="157.4" r="5.8"/><circle cx="1071.8" cy="164.9" r="5.8"/><circle cx="1070.7" cy="172.3" r="5.8"/><circle cx="1057.8" cy="179.8" r="5.8"/><circle cx="1049.3" cy="187.2" r="5.8"/><circle cx="1025.7" cy="194.7" r="5.8"/><circle cx="1008.6" cy="202.1" r="5.8"/><circle cx="995.7" cy="209.6" r="5.8"/><circle cx="983.6" cy="217" r="5.8"/><circle cx="968" cy="224.5" r="5.8"/><circle cx="949.3" cy="232" r="5.8"/><circle cx="942" cy="239.4" r="5.8"/><circle cx="935.9" cy="246.9" r="5.8"/><circle cx="926.2" cy="254.3" r="5.8"/><circle cx="916.5" cy="261.8" r="5.8"/><circle cx="928.6" cy="269.2" r="5.8"/><circle cx="932.3" cy="276.7" r="5.8"/><circle cx="931" cy="284.1" r="5.8"/><circle cx="929.4" cy="291.6" r="5.8"/><circle cx="907.4" cy="299.1" r="5.8"/><circle cx="977.8" cy="306.5" r="5.8"/><circle cx="1045.2" cy="314" r="5.8"/><circle cx="1067.6" cy="321.4" r="5.8"/><circle cx="1072.9" cy="328.9" r="5.8"/><circle cx="1091.4" cy="336.3" r="5.8"/><circle cx="1083.3" cy="343.8" r="5.8"/><circle cx="1069.5" cy="351.2" r="5.8"/><circle cx="1043.8" cy="358.7" r="5.8"/><circle cx="1036.5" cy="366.1" r="5.8"/><circle cx="1019" cy="373.6" r="5.8"/><circle cx="1043.3" cy="381.1" r="5.8"/><circle cx="1004.9" cy="388.5" r="5.8"/><circle cx="1015.4" cy="396" r="5.8"/><circle cx="1026.8" cy="403.4" r="5.8"/><circle cx="1040.1" cy="410.9" r="5.8"/><circle cx="1057.1" cy="418.3" r="5.8"/><circle cx="1059.1" cy="425.8" r="5.8"/><circle cx="1072.9" cy="433.2" r="5.8"/><circle cx="1070.5" cy="440.7" r="5.8"/><circle cx="1086.3" cy="448.1" r="5.8"/><circle cx="1105.2" cy="455.6" r="5.8"/><circle cx="1090.6" cy="463.1" r="5.8"/><circle cx="1094.8" cy="470.5" r="5.8"/><circle cx="1136.1" cy="478" r="5.8"/><circle cx="1140" cy="485.4" r="5.8"/><circle cx="1128.8" cy="492.9" r="5.8"/><circle cx="1133.6" cy="500.3" r="5.8"/><circle cx="1142.1" cy="507.8" r="5.8"/><circle cx="1156.7" cy="515.2" r="5.8"/>
<path d="M1027.9 75.4H1051M1027.9 68.5V82.3M1051 68.5V82.3M1034.7 82.9H1069.5M1034.7 76V89.8M1069.5 76V89.8M1063.2 90.3H1098.4M1063.2 83.4V97.2M1098.4 83.4V97.2M1071.2 97.8H1110.2M1071.2 90.9V104.7M1110.2 90.9V104.7M1106.5 105.2H1163.8M1106.5 98.3V112.1M1163.8 98.3V112.1M1130.7 112.7H1188.8M1130.7 105.8V119.6M1188.8 105.8V119.6M1102.1 120.1H1156.6M1102.1 113.2V127M1156.6 113.2V127M1111.2 127.6H1152.7M1111.2 120.7V134.5M1152.7 120.7V134.5M1102.8 135H1130.8M1102.8 128.1V141.9M1130.8 128.1V141.9M1081.6 142.5H1135.8M1081.6 135.6V149.4M1135.8 135.6V149.4M1055.4 149.9H1094.3M1055.4 143V156.8M1094.3 143V156.8M1042.3 157.4H1096M1042.3 150.5V164.3M1096 150.5V164.3M1033.8 164.9H1088.6M1033.8 158V171.8M1088.6 158V171.8M1023.5 172.3H1072.3M1023.5 165.4V179.2M1072.3 165.4V179.2M1029.8 179.8H1098.8M1029.8 172.9V186.7M1098.8 172.9V186.7M1024 187.2H1081.5M1024 180.3V194.1M1081.5 180.3V194.1M1011.4 194.7H1075.4M1011.4 187.8V201.6M1075.4 187.8V201.6M994 202.1H1047.9M994 195.2V209M1047.9 195.2V209M981.9 209.6H1019.8M981.9 202.7V216.5M1019.8 202.7V216.5M957.5 217H986.6M957.5 210.1V223.9M986.6 210.1V223.9M942.2 224.5H983.5M942.2 217.6V231.4M983.5 217.6V231.4M939.7 232H979.3M939.7 225.1V238.9M979.3 225.1V238.9M919.4 239.4H969.4M919.4 232.5V246.3M969.4 232.5V246.3M906.3 246.9H973.4M906.3 240V253.8M973.4 240V253.8M879 254.3H947.7M879 247.4V261.2M947.7 247.4V261.2M900.9 261.8H958.7M900.9 254.9V268.7M958.7 254.9V268.7M918.4 269.2H971.7M918.4 262.3V276.1M971.7 262.3V276.1M942.4 276.7H973.5M942.4 269.8V283.6M973.5 269.8V283.6M936.9 284.1H971.2M936.9 277.2V291M971.2 277.2V291M991.4 291.6H1026.2M991.4 284.7V298.5M1026.2 284.7V298.5M1025.1 299.1H1075.2M1025.1 292.2V305.9M1075.2 292.2V305.9M1014.4 306.5H1094.9M1014.4 299.6V313.4M1094.9 299.6V313.4M1028.3 314H1088.3M1028.3 307.1V320.9M1088.3 307.1V320.9M1028.7 321.4H1078.6M1028.7 314.5V328.3M1078.6 314.5V328.3M1013.9 328.9H1080.3M1013.9 322V335.8M1080.3 322V335.8M983 336.3H1030.8M983 329.4V343.2M1030.8 329.4V343.2M972.9 343.8H1018M972.9 336.9V350.7M1018 336.9V350.7M955.8 351.2H998.5M955.8 344.3V358.1M998.5 344.3V358.1M960.5 358.7H1001.7M960.5 351.8V365.6M1001.7 351.8V365.6M970.5 366.1H1024.8M970.5 359.2V373M1024.8 359.2V373M1004.9 373.6H1072.7M1004.9 366.7V380.5M1072.7 366.7V380.5M1000.3 381.1H1087.4M1000.3 374.2V388M1087.4 374.2V388M1028.1 388.5H1065.4M1028.1 381.6V395.4M1065.4 381.6V395.4M1022.4 396H1076.6M1022.4 389.1V402.9M1076.6 389.1V402.9M976.5 403.4H1057M976.5 396.5V410.3M1057 396.5V410.3M996.4 410.9H1058.2M996.4 404V417.8M1058.2 404V417.8M1016.2 418.3H1085.6M1016.2 411.4V425.2M1085.6 411.4V425.2M991 425.8H1076.5M991 418.9V432.7M1076.5 418.9V432.7M1052.1 433.2H1113.1M1052.1 426.3V440.1M1113.1 426.3V440.1M1045.8 440.7H1109.9M1045.8 433.8V447.6M1109.9 433.8V447.6M1092.2 448.1H1132.9M1092.2 441.2V455M1132.9 441.2V455M1091.1 455.6H1148.3M1091.1 448.7V462.5M1148.3 448.7V462.5M1083.5 463.1H1139.4M1083.5 456.2V470M1139.4 456.2V470M1136.2 470.5H1190.5M1136.2 463.6V477.4M1190.5 463.6V477.4M1129.2 478H1190.9M1129.2 471.1V484.9M1190.9 471.1V484.9M1106.4 485.4H1179.1M1106.4 478.5V492.3M1179.1 478.5V492.3M1094.9 492.9H1182.5M1094.9 486V499.8M1182.5 486V499.8M1090 500.3H1158.4M1090 493.4V507.2M1158.4 493.4V507.2M1105.6 507.8H1145M1105.6 500.9V514.7M1145 500.9V514.7M1110.6 515.2H1184.3M1110.6 508.3V522.1M1184.3 508.3V522.1" stroke="#000" stroke-width="1.5" fill="none"/>
<path d="M1039 75.4L1051.6 82.9L1081 90.3L1090 97.8L1134.4 105.2L1160 112.7L1130.6 120.1L1132 127.6L1117 135L1108.4 142.5L1074 149.9L1069.6 157.4L1061 164.9L1048.2 172.3L1063.8 179.8L1052 187.2L1045 194.7L1020.3 202.1L1001 209.6L972.5 217L963.7 224.5L958.7 232L944.4 239.4L939.6 246.9L912.9 254.3L931.1 261.8L944.4 269.2L957.3 276.7L954.1 284.1L1008.8 291.6L1051.3 299.1L1055 306.5L1058 314L1054.2 321.4L1046.9 328.9L1006.4 336.3L996.6 343.8L978.2 351.2L980.6 358.7L996.6 366.1L1040.4 373.6L1042 381.1L1046 388.5L1049.6 396L1017.8 403.4L1026 410.9L1051 418.3L1032.4 425.8L1083.8 433.2L1078 440.7L1113.5 448.1L1120.8 455.6L1111 463.1L1164 470.5L1160.3 478L1142.6 485.4L1136.8 492.9L1125.1 500.3L1124.6 507.8L1147 515.2" stroke="#000" stroke-width="1.3" fill="none"/>
<g fill="#fff" stroke="#000" stroke-width="1.5"><circle cx="1039" cy="75.4" r="5.25"/><circle cx="1051.6" cy="82.9" r="5.25"/><circle cx="1081" cy="90.3" r="5.25"/><circle cx="1090" cy="97.8" r="5.25"/><circle cx="1134.4" cy="105.2" r="5.25"/><circle cx="1160" cy="112.7" r="5.25"/><circle cx="1130.6" cy="120.1" r="5.25"/><circle cx="1132" cy="127.6" r="5.25"/><circle cx="1117" cy="135" r="5.25"/><circle cx="1108.4" cy="142.5" r="5.25"/><circle cx="1074" cy="149.9" r="5.25"/><circle cx="1069.6" cy="157.4" r="5.25"/><circle cx="1061" cy="164.9" r="5.25"/><circle cx="1048.2" cy="172.3" r="5.25"/><circle cx="1063.8" cy="179.8" r="5.25"/><circle cx="1052" cy="187.2" r="5.25"/><circle cx="1045" cy="194.7" r="5.25"/><circle cx="1020.3" cy="202.1" r="5.25"/><circle cx="1001" cy="209.6" r="5.25"/><circle cx="972.5" cy="217" r="5.25"/><circle cx="963.7" cy="224.5" r="5.25"/><circle cx="958.7" cy="232" r="5.25"/><circle cx="944.4" cy="239.4" r="5.25"/><circle cx="939.6" cy="246.9" r="5.25"/><circle cx="912.9" cy="254.3" r="5.25"/><circle cx="931.1" cy="261.8" r="5.25"/><circle cx="944.4" cy="269.2" r="5.25"/><circle cx="957.3" cy="276.7" r="5.25"/><circle cx="954.1" cy="284.1" r="5.25"/><circle cx="1008.8" cy="291.6" r="5.25"/><circle cx="1051.3" cy="299.1" r="5.25"/><circle cx="1055" cy="306.5" r="5.25"/><circle cx="1058" cy="314" r="5.25"/><circle cx="1054.2" cy="321.4" r="5.25"/><circle cx="1046.9" cy="328.9" r="5.25"/><circle cx="1006.4" cy="336.3" r="5.25"/><circle cx="996.6" cy="343.8" r="5.25"/><circle cx="978.2" cy="351.2" r="5.25"/><circle cx="980.6" cy="358.7" r="5.25"/><circle cx="996.6" cy="366.1" r="5.25"/><circle cx="1040.4" cy="373.6" r="5.25"/><circle cx="1042" cy="381.1" r="5.25"/><circle cx="1046" cy="388.5" r="5.25"/><circle cx="1049.6" cy="396" r="5.25"/><circle cx="1017.8" cy="403.4" r="5.25"/><circle cx="1026" cy="410.9" r="5.25"/><circle cx="1051" cy="418.3" r="5.25"/><circle cx="1032.4" cy="425.8" r="5.25"/><circle cx="1083.8" cy="433.2" r="5.25"/><circle cx="1078" cy="440.7" r="5.25"/><circle cx="1113.5" cy="448.1" r="5.25"/><circle cx="1120.8" cy="455.6" r="5.25"/><circle cx="1111" cy="463.1" r="5.25"/><circle cx="1164" cy="470.5" r="5.25"/><circle cx="1160.3" cy="478" r="5.25"/><circle cx="1142.6" cy="485.4" r="5.25"/><circle cx="1136.8" cy="492.9" r="5.25"/><circle cx="1125.1" cy="500.3" r="5.25"/><circle cx="1124.6" cy="507.8" r="5.25"/><circle cx="1147" cy="515.2" r="5.25"/></g>
<path d="M957.7 75.4H981.7M957.7 68.5V82.3M981.7 68.5V82.3M977.8 82.9H1010.4M977.8 76V89.8M1010.4 76V89.8M996.9 90.3H1027.5M996.9 83.4V97.2M1027.5 83.4V97.2M1043 97.8H1076M1043 90.9V104.7M1076 90.9V104.7M1053 105.2H1092.8M1053 98.3V112.1M1092.8 98.3V112.1M1063.7 112.7H1130.8M1063.7 105.8V119.6M1130.8 105.8V119.6M1096.2 120.1H1124.5M1096.2 113.2V127M1124.5 113.2V127M1098.6 127.6H1137.1M1098.6 120.7V134.5M1137.1 120.7V134.5M1090.5 135H1141.4M1090.5 128.1V141.9M1141.4 128.1V141.9M1083.2 142.5H1130.7M1083.2 135.6V149.4M1130.7 135.6V149.4M1087.3 149.9H1119.3M1087.3 143V156.8M1119.3 143V156.8M1061 157.4H1111.7M1061 150.5V164.3M1111.7 150.5V164.3M1083.5 164.9H1126.4M1083.5 158V171.8M1126.4 158V171.8M1063.2 172.3H1099M1063.2 165.4V179.2M1099 165.4V179.2M1063.1 179.8H1122.9M1063.1 172.9V186.7M1122.9 172.9V186.7M1038.1 187.2H1067.9M1038.1 180.3V194.1M1067.9 180.3V194.1M1048 194.7H1109.1M1048 187.8V201.6M1109.1 187.8V201.6M1072.6 202.1H1154.2M1072.6 195.2V209M1154.2 195.2V209M1031.1 209.6H1075M1031.1 202.7V216.5M1075 202.7V216.5M1014.8 217H1074.4M1014.8 210.1V223.9M1074.4 210.1V223.9M1018.9 224.5H1075.7M1018.9 217.6V231.4M1075.7 217.6V231.4M1009.2 232H1050.4M1009.2 225.1V238.9M1050.4 225.1V238.9M1000.1 239.4H1060.4M1000.1 232.5V246.3M1060.4 232.5V246.3M1022.6 246.9H1067.2M1022.6 240V253.8M1067.2 240V253.8M1008.7 254.3H1041.7M1008.7 247.4V261.2M1041.7 247.4V261.2M1002.9 261.8H1032.8M1002.9 254.9V268.7M1032.8 254.9V268.7M961.6 269.2H1012.1M961.6 262.3V276.1M1012.1 262.3V276.1M983.5 276.7H1037.8M983.5 269.8V283.6M1037.8 269.8V283.6M1003.2 284.1H1116.2M1003.2 277.2V291M1116.2 277.2V291M1031.7 291.6H1068.9M1031.7 284.7V298.5M1068.9 284.7V298.5M1011.4 299.1H1042M1011.4 292.2V305.9M1042 292.2V305.9M1101.7 306.5H1172.7M1101.7 299.6V313.4M1172.7 299.6V313.4M1079.4 314H1124.5M1079.4 307.1V320.9M1124.5 307.1V320.9M1099.3 321.4H1151M1099.3 314.5V328.3M1151 314.5V328.3M1085.8 328.9H1134.9M1085.8 322V335.8M1134.9 322V335.8M1067.5 336.3H1226.6M1067.5 329.4V343.2M1226.6 329.4V343.2M1043.2 343.8H1189.4M1043.2 336.9V350.7M1189.4 336.9V350.7M1021.3 351.2H1144.5M1021.3 344.3V358.1M1144.5 344.3V358.1M1008.3 358.7H1110.3M1008.3 351.8V365.6M1110.3 351.8V365.6M1033.7 366.1H1081.8M1033.7 359.2V373M1081.8 359.2V373M1015.1 373.6H1098.9M1015.1 366.7V380.5M1098.9 366.7V380.5M1031 381.1H1075.3M1031 374.2V388M1075.3 374.2V388M1041.7 388.5H1092M1041.7 381.6V395.4M1092 381.6V395.4M1056.6 396H1108.6M1056.6 389.1V402.9M1108.6 389.1V402.9M1028.7 403.4H1071.1M1028.7 396.5V410.3M1071.1 396.5V410.3M1030.1 410.9H1103.8M1030.1 404V417.8M1103.8 404V417.8M1040.1 418.3H1116M1040.1 411.4V425.2M1116 411.4V425.2M1051.6 425.8H1093.9M1051.6 418.9V432.7M1093.9 418.9V432.7M1039.1 433.2H1115.2M1039.1 426.3V440.1M1115.2 426.3V440.1M1060 440.7H1093.2M1060 433.8V447.6M1093.2 433.8V447.6M1052.9 448.1H1113.6M1052.9 441.2V455M1113.6 441.2V455M1046.9 455.6H1130.4M1046.9 448.7V462.5M1130.4 448.7V462.5M1057.1 463.1H1127.7M1057.1 456.2V470M1127.7 456.2V470M1108.3 470.5H1170.5M1108.3 463.6V477.4M1170.5 463.6V477.4M1129.3 478H1164.2M1129.3 471.1V484.9M1164.2 471.1V484.9M1117.1 485.4H1190.3M1117.1 478.5V492.3M1190.3 478.5V492.3M1127.6 492.9H1164.5M1127.6 486V499.8M1164.5 486V499.8M1160.1 500.3H1200.5M1160.1 493.4V507.2M1200.5 493.4V507.2M1135.5 507.8H1199.6M1135.5 500.9V514.7M1199.6 500.9V514.7M1132.6 515.2H1177.2M1132.6 508.3V522.1M1177.2 508.3V522.1" stroke="#000" stroke-width="1.5" fill="none"/>
<path d="M970 75.4L994 82.9L1012 90.3L1060 97.8L1072 105.2L1096 112.7L1111 120.1L1118 127.6L1117 135L1108 142.5L1103 149.9L1086 157.4L1105 164.9L1081.4 172.3L1092 179.8L1053.6 187.2L1078.2 194.7L1114.6 202.1L1053.6 209.6L1045 217L1046 224.5L1029.7 232L1029 239.4L1045.2 246.9L1024.6 254.3L1018.5 261.8L986.9 269.2L1011.2 276.7L1062.2 284.1L1050 291.6L1027 299.1L1136.5 306.5L1102.8 314L1124.6 321.4L1111.3 328.9L1146.5 336.3L1113.2 343.8L1083.3 351.2L1060.3 358.7L1058 366.1L1055.4 373.6L1053.5 381.1L1067.2 388.5L1082.9 396L1049.8 403.4L1066.8 410.9L1077.8 418.3L1072.2 425.8L1078 433.2L1076.6 440.7L1083 448.1L1088 455.6L1094 463.1L1138.5 470.5L1147.5 478L1152.3 485.4L1145.8 492.9L1179.8 500.3L1168.4 507.8L1154.3 515.2" stroke="#000" stroke-width="1.3" fill="none"/>
<g stroke="#000" stroke-width="0.7" stroke-linejoin="round"><path d="M964.4 72.1H975.6L970 82.3Z"/><path d="M988.4 79.6H999.6L994 89.8Z"/><path d="M1006.4 87H1017.6L1012 97.2Z"/><path d="M1054.4 94.5H1065.6L1060 104.7Z"/><path d="M1066.4 101.9H1077.6L1072 112.1Z"/><path d="M1090.4 109.4H1101.6L1096 119.6Z"/><path d="M1105.4 116.8H1116.6L1111 127Z"/><path d="M1112.4 124.3H1123.6L1118 134.5Z"/><path d="M1111.4 131.7H1122.6L1117 141.9Z"/><path d="M1102.4 139.2H1113.6L1108 149.4Z"/><path d="M1097.4 146.6H1108.6L1103 156.8Z"/><path d="M1080.4 154.1H1091.6L1086 164.3Z"/><path d="M1099.4 161.6H1110.6L1105 171.8Z"/><path d="M1075.8 169H1087L1081.4 179.2Z"/><path d="M1086.4 176.5H1097.6L1092 186.7Z"/><path d="M1048 183.9H1059.2L1053.6 194.1Z"/><path d="M1072.6 191.4H1083.8L1078.2 201.6Z"/><path d="M1109 198.8H1120.2L1114.6 209Z"/><path d="M1048 206.3H1059.2L1053.6 216.5Z"/><path d="M1039.4 213.7H1050.6L1045 223.9Z"/><path d="M1040.4 221.2H1051.6L1046 231.4Z"/><path d="M1024.1 228.7H1035.3L1029.7 238.9Z"/><path d="M1023.4 236.1H1034.6L1029 246.3Z"/><path d="M1039.6 243.6H1050.8L1045.2 253.8Z"/><path d="M1019 251H1030.2L1024.6 261.2Z"/><path d="M1012.9 258.5H1024.1L1018.5 268.7Z"/><path d="M981.3 265.9H992.5L986.9 276.1Z"/><path d="M1005.6 273.4H1016.8L1011.2 283.6Z"/><path d="M1056.6 280.8H1067.8L1062.2 291Z"/><path d="M1044.4 288.3H1055.6L1050 298.5Z"/><path d="M1021.4 295.8H1032.6L1027 305.9Z"/><path d="M1130.9 303.2H1142.1L1136.5 313.4Z"/><path d="M1097.2 310.7H1108.4L1102.8 320.9Z"/><path d="M1119 318.1H1130.2L1124.6 328.3Z"/><path d="M1105.7 325.6H1116.9L1111.3 335.8Z"/><path d="M1140.9 333H1152.1L1146.5 343.2Z"/><path d="M1107.6 340.5H1118.8L1113.2 350.7Z"/><path d="M1077.7 347.9H1088.9L1083.3 358.1Z"/><path d="M1054.7 355.4H1065.9L1060.3 365.6Z"/><path d="M1052.4 362.8H1063.6L1058 373Z"/><path d="M1049.8 370.3H1061L1055.4 380.5Z"/><path d="M1047.9 377.8H1059.1L1053.5 388Z"/><path d="M1061.6 385.2H1072.8L1067.2 395.4Z"/><path d="M1077.3 392.7H1088.5L1082.9 402.9Z"/><path d="M1044.2 400.1H1055.4L1049.8 410.3Z"/><path d="M1061.2 407.6H1072.4L1066.8 417.8Z"/><path d="M1072.2 415H1083.4L1077.8 425.2Z"/><path d="M1066.6 422.5H1077.8L1072.2 432.7Z"/><path d="M1072.4 429.9H1083.6L1078 440.1Z"/><path d="M1071 437.4H1082.2L1076.6 447.6Z"/><path d="M1077.4 444.8H1088.6L1083 455Z"/><path d="M1082.4 452.3H1093.6L1088 462.5Z"/><path d="M1088.4 459.8H1099.6L1094 470Z"/><path d="M1132.9 467.2H1144.1L1138.5 477.4Z"/><path d="M1141.9 474.7H1153.1L1147.5 484.9Z"/><path d="M1146.7 482.1H1157.9L1152.3 492.3Z"/><path d="M1140.2 489.6H1151.4L1145.8 499.8Z"/><path d="M1174.2 497H1185.4L1179.8 507.2Z"/><path d="M1162.8 504.5H1174L1168.4 514.7Z"/><path d="M1148.7 511.9H1159.9L1154.3 522.1Z"/></g>
<path d="M263.9 609.6H291M263.9 602.7V616.5M291 602.7V616.5M263.4 617.1H286.9M263.4 610.2V624M286.9 610.2V624M259.4 624.5H295.4M259.4 617.6V631.4M295.4 617.6V631.4M268 632H293.9M268 625.1V638.9M293.9 625.1V638.9M266.6 639.4H297.6M266.6 632.5V646.3M297.6 632.5V646.3M282.7 646.9H316.6M282.7 640V653.8M316.6 640V653.8M292.7 654.3H376.3M292.7 647.4V661.2M376.3 647.4V661.2M322.5 661.8H408.9M322.5 654.9V668.7M408.9 654.9V668.7M324 669.2H409.9M324 662.3V676.1M409.9 662.3V676.1M354.9 676.7H445.8M354.9 669.8V683.6M445.8 669.8V683.6M382.3 684.1H449M382.3 677.2V691M449 677.2V691M374.5 691.6H454.8M374.5 684.7V698.5M454.8 684.7V698.5M384.5 699.1H442M384.5 692.2V706M442 692.2V706M363.2 706.5H429.9M363.2 699.6V713.4M429.9 699.6V713.4M355.9 714H400.4M355.9 707.1V720.9M400.4 707.1V720.9M340.7 721.4H378.2M340.7 714.5V728.3M378.2 714.5V728.3M326.8 728.9H370.8M326.8 722V735.8M370.8 722V735.8M314.2 736.3H344.4M314.2 729.4V743.2M344.4 729.4V743.2M295.7 743.8H329.8M295.7 736.9V750.7M329.8 736.9V750.7M275.6 751.2H338.7M275.6 744.3V758.1M338.7 744.3V758.1M280.9 758.7H311.8M280.9 751.8V765.6M311.8 751.8V765.6M259 766.2H317.3M259 759.3V773.1M317.3 759.3V773.1M263.7 773.6H292.3M263.7 766.7V780.5M292.3 766.7V780.5M270.9 781.1H306.7M270.9 774.2V788M306.7 774.2V788M252.5 788.5H292.6M252.5 781.6V795.4M292.6 781.6V795.4M241.7 796H296.7M241.7 789.1V802.9M296.7 789.1V802.9M253.7 803.4H289.7M253.7 796.5V810.3M289.7 796.5V810.3M235.8 810.9H273M235.8 804V817.8M273 804V817.8M219.6 818.3H262.8M219.6 811.4V825.2M262.8 811.4V825.2M201.4 825.8H268.5M201.4 818.9V832.7M268.5 818.9V832.7M205.8 833.2H247.9M205.8 826.4V840.1M247.9 826.4V840.1M194.5 840.7H265.2M194.5 833.8V847.6M265.2 833.8V847.6M250.4 848.2H307.1M250.4 841.3V855.1M307.1 841.3V855.1M280.4 855.6H330.2M280.4 848.7V862.5M330.2 848.7V862.5M312.6 863.1H344.4M312.6 856.2V870M344.4 856.2V870M324.2 870.5H389.9M324.2 863.6V877.4M389.9 863.6V877.4M316.2 878H369.6M316.2 871.1V884.9M369.6 871.1V884.9M325.5 885.4H368.7M325.5 878.5V892.3M368.7 878.5V892.3M327 892.9H385M327 886V899.8M385 886V899.8M331.8 900.3H360.3M331.8 893.4V907.2M360.3 893.4V907.2M309.2 907.8H356.4M309.2 900.9V914.7M356.4 900.9V914.7M264.6 915.3H327.5M264.6 908.4V922.2M327.5 908.4V922.2M259.7 922.7H294.1M259.7 915.8V929.6M294.1 915.8V929.6M241.9 930.2H284.3M241.9 923.3V937.1M284.3 923.3V937.1M227.8 937.6H297.7M227.8 930.7V944.5M297.7 930.7V944.5M245.7 945.1H307.2M245.7 938.2V952M307.2 938.2V952M264.6 952.5H305.5M264.6 945.6V959.4M305.5 945.6V959.4M277.4 960H313.6M277.4 953.1V966.9M313.6 953.1V966.9M284 967.4H312.9M284 960.5V974.3M312.9 960.5V974.3M261.7 974.9H332.5M261.7 968V981.8M332.5 968V981.8M281 982.4H312.2M281 975.5V989.2M312.2 975.5V989.2M263.8 989.8H323.7M263.8 982.9V996.7M323.7 982.9V996.7M254.5 997.3H305.4M254.5 990.4V1004.2M305.4 990.4V1004.2M234.5 1004.7H309M234.5 997.8V1011.6M309 997.8V1011.6M242.5 1012.2H310.3M242.5 1005.3V1019.1M310.3 1005.3V1019.1M277.1 1019.6H342.4M277.1 1012.7V1026.5M342.4 1012.7V1026.5M281.1 1027.1H350.2M281.1 1020.2V1034M350.2 1020.2V1034M264.8 1034.5H330.5M264.8 1027.6V1041.4M330.5 1027.6V1041.4M238.7 1042H292.9M238.7 1035.1V1048.9M292.9 1035.1V1048.9M263.6 1049.4H300.4M263.6 1042.5V1056.3M300.4 1042.5V1056.3" stroke="#000" stroke-width="1.5" fill="none"/>
<path d="M277.1 609.6L275.3 617.1L277.1 624.5L280.9 632L281.8 639.4L299.8 646.9L333.8 654.3L364.4 661.8L365.3 669.2L399.7 676.7L415 684.1L415 691.6L414.3 699.1L395 706.5L378.9 714L359.6 721.4L347.8 728.9L329.6 736.3L312.5 743.8L308.2 751.2L296.4 758.7L287 766.2L278.6 773.6L289.3 781.1L272.1 788.5L270 796L272.1 803.4L253.9 810.9L241.1 818.3L235 825.8L226.1 833.2L230.4 840.7L277.5 848.2L306 855.6L327.8 863.1L357.4 870.5L342.9 878L346.1 885.4L356.8 892.9L346.1 900.3L332.1 907.8L295.7 915.3L277.5 922.7L263.6 930.2L262.7 937.6L275 945.1L285 952.5L295 960L298 967.4L296 974.9L297 982.4L295 989.8L280 997.3L271.4 1004.7L277.1 1012.2L310 1019.6L317.1 1027.1L298.6 1034.5L265.7 1042L281.4 1049.4" stroke="#000" stroke-width="1.3" fill="none"/>
<circle cx="277.1" cy="609.6" r="5.8"/><circle cx="275.3" cy="617.1" r="5.8"/><circle cx="277.1" cy="624.5" r="5.8"/><circle cx="280.9" cy="632" r="5.8"/><circle cx="281.8" cy="639.4" r="5.8"/><circle cx="299.8" cy="646.9" r="5.8"/><circle cx="333.8" cy="654.3" r="5.8"/><circle cx="364.4" cy="661.8" r="5.8"/><circle cx="365.3" cy="669.2" r="5.8"/><circle cx="399.7" cy="676.7" r="5.8"/><circle cx="415" cy="684.1" r="5.8"/><circle cx="415" cy="691.6" r="5.8"/><circle cx="414.3" cy="699.1" r="5.8"/><circle cx="395" cy="706.5" r="5.8"/><circle cx="378.9" cy="714" r="5.8"/><circle cx="359.6" cy="721.4" r="5.8"/><circle cx="347.8" cy="728.9" r="5.8"/><circle cx="329.6" cy="736.3" r="5.8"/><circle cx="312.5" cy="743.8" r="5.8"/><circle cx="308.2" cy="751.2" r="5.8"/><circle cx="296.4" cy="758.7" r="5.8"/><circle cx="287" cy="766.2" r="5.8"/><circle cx="278.6" cy="773.6" r="5.8"/><circle cx="289.3" cy="781.1" r="5.8"/><circle cx="272.1" cy="788.5" r="5.8"/><circle cx="270" cy="796" r="5.8"/><circle cx="272.1" cy="803.4" r="5.8"/><circle cx="253.9" cy="810.9" r="5.8"/><circle cx="241.1" cy="818.3" r="5.8"/><circle cx="235" cy="825.8" r="5.8"/><circle cx="226.1" cy="833.2" r="5.8"/><circle cx="230.4" cy="840.7" r="5.8"/><circle cx="277.5" cy="848.2" r="5.8"/><circle cx="306" cy="855.6" r="5.8"/><circle cx="327.8" cy="863.1" r="5.8"/><circle cx="357.4" cy="870.5" r="5.8"/><circle cx="342.9" cy="878" r="5.8"/><circle cx="346.1" cy="885.4" r="5.8"/><circle cx="356.8" cy="892.9" r="5.8"/><circle cx="346.1" cy="900.3" r="5.8"/><circle cx="332.1" cy="907.8" r="5.8"/><circle cx="295.7" cy="915.3" r="5.8"/><circle cx="277.5" cy="922.7" r="5.8"/><circle cx="263.6" cy="930.2" r="5.8"/><circle cx="262.7" cy="937.6" r="5.8"/><circle cx="275" cy="945.1" r="5.8"/><circle cx="285" cy="952.5" r="5.8"/><circle cx="295" cy="960" r="5.8"/><circle cx="298" cy="967.4" r="5.8"/><circle cx="296" cy="974.9" r="5.8"/><circle cx="297" cy="982.4" r="5.8"/><circle cx="295" cy="989.8" r="5.8"/><circle cx="280" cy="997.3" r="5.8"/><circle cx="271.4" cy="1004.7" r="5.8"/><circle cx="277.1" cy="1012.2" r="5.8"/><circle cx="310" cy="1019.6" r="5.8"/><circle cx="317.1" cy="1027.1" r="5.8"/><circle cx="298.6" cy="1034.5" r="5.8"/><circle cx="265.7" cy="1042" r="5.8"/><circle cx="281.4" cy="1049.4" r="5.8"/>
<path d="M384.9 609.6H406.7M384.9 602.7V616.5M406.7 602.7V616.5M354.1 617.1H371.3M354.1 610.2V624M371.3 610.2V624M341.5 624.5H367.4M341.5 617.6V631.4M367.4 617.6V631.4M353.2 632H376.8M353.2 625.1V638.9M376.8 625.1V638.9M351.6 639.4H369.6M351.6 632.5V646.3M369.6 632.5V646.3M365.7 646.9H392.1M365.7 640V653.8M392.1 640V653.8M351.4 654.3H435.1M351.4 647.4V661.2M435.1 647.4V661.2M391.6 661.8H427.8M391.6 654.9V668.7M427.8 654.9V668.7M365.5 669.2H439.3M365.5 662.3V676.1M439.3 662.3V676.1M374.3 676.7H441.6M374.3 669.8V683.6M441.6 669.8V683.6M406.9 684.1H445.3M406.9 677.2V691M445.3 677.2V691M373.8 691.6H452.2M373.8 684.7V698.5M452.2 684.7V698.5M368 699.1H437M368 692.2V706M437 692.2V706M368.1 706.5H414.3M368.1 699.6V713.4M414.3 699.6V713.4M366.3 714H408M366.3 707.1V720.9M408 707.1V720.9M348.4 721.4H396M348.4 714.5V728.3M396 714.5V728.3M337.9 728.9H377M337.9 722V735.8M377 722V735.8M308.7 736.3H370.8M308.7 729.4V743.2M370.8 729.4V743.2M293.6 743.8H367.4M293.6 736.9V750.7M367.4 736.9V750.7M281.7 751.2H343.4M281.7 744.3V758.1M343.4 744.3V758.1M269.5 758.7H334.4M269.5 751.8V765.6M334.4 751.8V765.6M283.3 766.2H316.7M283.3 759.3V773.1M316.7 759.3V773.1M272.7 773.6H334.5M272.7 766.7V780.5M334.5 766.7V780.5M275.3 781.1H311.6M275.3 774.2V788M311.6 774.2V788M233.8 788.5H302.6M233.8 781.6V795.4M302.6 781.6V795.4M246.3 796H277.8M246.3 789.1V802.9M277.8 789.1V802.9M216.8 803.4H251M216.8 796.5V810.3M251 796.5V810.3M203.3 810.9H248.8M203.3 804V817.8M248.8 804V817.8M192.8 818.3H264.5M192.8 811.4V825.2M264.5 811.4V825.2M220.1 825.8H273.5M220.1 818.9V832.7M273.5 818.9V832.7M210.8 833.2H277.7M210.8 826.4V840.1M277.7 826.4V840.1M245 840.7H290.8M245 833.8V847.6M290.8 833.8V847.6M282.5 848.2H328M282.5 841.3V855.1M328 841.3V855.1M281.2 855.6H329.4M281.2 848.7V862.5M329.4 848.7V862.5M272 863.1H349.3M272 856.2V870M349.3 856.2V870M295.9 870.5H356.2M295.9 863.6V877.4M356.2 863.6V877.4M312.4 878H340.8M312.4 871.1V884.9M340.8 871.1V884.9M303.5 885.4H348.6M303.5 878.5V892.3M348.6 878.5V892.3M306.5 892.9H339.2M306.5 886V899.8M339.2 886V899.8M274.2 900.3H328.1M274.2 893.4V907.2M328.1 893.4V907.2M253.3 907.8H321.7M253.3 900.9V914.7M321.7 900.9V914.7M258.6 915.3H295.1M258.6 908.4V922.2M295.1 908.4V922.2M232.2 922.7H303.9M232.2 915.8V929.6M303.9 915.8V929.6M246.4 930.2H291.4M246.4 923.3V937.1M291.4 923.3V937.1M258.6 937.6H294.1M258.6 930.7V944.5M294.1 930.7V944.5M239.6 945.1H315.1M239.6 938.2V952M315.1 938.2V952M247.8 952.5H312.3M247.8 945.6V959.4M312.3 945.6V959.4M244.2 960H283.3M244.2 953.1V966.9M283.3 953.1V966.9M250.9 967.4H307.3M250.9 960.5V974.3M307.3 960.5V974.3M251.1 974.9H282.3M251.1 968V981.8M282.3 968V981.8M242.2 982.4H298.9M242.2 975.5V989.2M298.9 975.5V989.2M252.4 989.8H298.1M252.4 982.9V996.7M298.1 982.9V996.7M259.3 997.3H304.5M259.3 990.4V1004.2M304.5 990.4V1004.2M273 1004.7H308.6M273 997.8V1011.6M308.6 997.8V1011.6M269.7 1012.2H305.6M269.7 1005.3V1019.1M305.6 1005.3V1019.1M256.6 1019.6H311M256.6 1012.7V1026.5M311 1012.7V1026.5M247.6 1027.1H301.2M247.6 1020.2V1034M301.2 1020.2V1034M243.2 1034.5H318.3M243.2 1027.6V1041.4M318.3 1027.6V1041.4M250 1042H317.9M250 1035.1V1048.9M317.9 1035.1V1048.9M294.5 1049.4H329.4M294.5 1042.5V1056.3M329.4 1042.5V1056.3" stroke="#000" stroke-width="1.5" fill="none"/>
<path d="M396 609.6L362.9 617.1L354.2 624.5L364.8 632L360.7 639.4L378.3 646.9L392.6 654.3L409.9 661.8L403.4 669.2L408.1 676.7L425.2 684.1L414.2 691.6L403.2 699.1L391.1 706.5L387.5 714L371.8 721.4L358.1 728.9L340.3 736.3L330.3 743.8L313.1 751.2L303.3 758.7L300.7 766.2L303 773.6L293.6 781.1L267.9 788.5L262.5 796L234.6 803.4L227.1 810.9L228.9 818.3L246.4 825.8L243.2 833.2L268.3 840.7L306.4 848.2L304.8 855.6L309.6 863.1L325.7 870.5L326.8 878L325.7 885.4L323.1 892.9L300.4 900.3L287.1 907.8L276.4 915.3L267.9 922.7L268.9 930.2L276 937.6L277.3 945.1L279 952.5L262.9 960L280 967.4L267.1 974.9L270 982.4L274.3 989.8L282 997.3L290 1004.7L287 1012.2L283.6 1019.6L275 1027.1L279 1034.5L283.6 1042L311.4 1049.4" stroke="#000" stroke-width="1.3" fill="none"/>
<g fill="#fff" stroke="#000" stroke-width="1.5"><circle cx="396" cy="609.6" r="5.25"/><circle cx="362.9" cy="617.1" r="5.25"/><circle cx="354.2" cy="624.5" r="5.25"/><circle cx="364.8" cy="632" r="5.25"/><circle cx="360.7" cy="639.4" r="5.25"/><circle cx="378.3" cy="646.9" r="5.25"/><circle cx="392.6" cy="654.3" r="5.25"/><circle cx="409.9" cy="661.8" r="5.25"/><circle cx="403.4" cy="669.2" r="5.25"/><circle cx="408.1" cy="676.7" r="5.25"/><circle cx="425.2" cy="684.1" r="5.25"/><circle cx="414.2" cy="691.6" r="5.25"/><circle cx="403.2" cy="699.1" r="5.25"/><circle cx="391.1" cy="706.5" r="5.25"/><circle cx="387.5" cy="714" r="5.25"/><circle cx="371.8" cy="721.4" r="5.25"/><circle cx="358.1" cy="728.9" r="5.25"/><circle cx="340.3" cy="736.3" r="5.25"/><circle cx="330.3" cy="743.8" r="5.25"/><circle cx="313.1" cy="751.2" r="5.25"/><circle cx="303.3" cy="758.7" r="5.25"/><circle cx="300.7" cy="766.2" r="5.25"/><circle cx="303" cy="773.6" r="5.25"/><circle cx="293.6" cy="781.1" r="5.25"/><circle cx="267.9" cy="788.5" r="5.25"/><circle cx="262.5" cy="796" r="5.25"/><circle cx="234.6" cy="803.4" r="5.25"/><circle cx="227.1" cy="810.9" r="5.25"/><circle cx="228.9" cy="818.3" r="5.25"/><circle cx="246.4" cy="825.8" r="5.25"/><circle cx="243.2" cy="833.2" r="5.25"/><circle cx="268.3" cy="840.7" r="5.25"/><circle cx="306.4" cy="848.2" r="5.25"/><circle cx="304.8" cy="855.6" r="5.25"/><circle cx="309.6" cy="863.1" r="5.25"/><circle cx="325.7" cy="870.5" r="5.25"/><circle cx="326.8" cy="878" r="5.25"/><circle cx="325.7" cy="885.4" r="5.25"/><circle cx="323.1" cy="892.9" r="5.25"/><circle cx="300.4" cy="900.3" r="5.25"/><circle cx="287.1" cy="907.8" r="5.25"/><circle cx="276.4" cy="915.3" r="5.25"/><circle cx="267.9" cy="922.7" r="5.25"/><circle cx="268.9" cy="930.2" r="5.25"/><circle cx="276" cy="937.6" r="5.25"/><circle cx="277.3" cy="945.1" r="5.25"/><circle cx="279" cy="952.5" r="5.25"/><circle cx="262.9" cy="960" r="5.25"/><circle cx="280" cy="967.4" r="5.25"/><circle cx="267.1" cy="974.9" r="5.25"/><circle cx="270" cy="982.4" r="5.25"/><circle cx="274.3" cy="989.8" r="5.25"/><circle cx="282" cy="997.3" r="5.25"/><circle cx="290" cy="1004.7" r="5.25"/><circle cx="287" cy="1012.2" r="5.25"/><circle cx="283.6" cy="1019.6" r="5.25"/><circle cx="275" cy="1027.1" r="5.25"/><circle cx="279" cy="1034.5" r="5.25"/><circle cx="283.6" cy="1042" r="5.25"/><circle cx="311.4" cy="1049.4" r="5.25"/></g>
<path d="M264.1 609.6H286.8M264.1 602.7V616.5M286.8 602.7V616.5M257.5 617.1H278.5M257.5 610.2V624M278.5 610.2V624M255.7 624.5H287.3M255.7 617.6V631.4M287.3 617.6V631.4M281.8 632H307.6M281.8 625.1V638.9M307.6 625.1V638.9M283.7 639.4H299.8M283.7 632.5V646.3M299.8 632.5V646.3M294.5 646.9H331.8M294.5 640V653.8M331.8 640V653.8M318.7 654.3H390.1M318.7 647.4V661.2M390.1 647.4V661.2M349 661.8H424.3M349 654.9V668.7M424.3 654.9V668.7M352.4 669.2H410.3M352.4 662.3V676.1M410.3 662.3V676.1M404.7 676.7H481.8M404.7 669.8V683.6M481.8 669.8V683.6M411.8 684.1H458.8M411.8 677.2V691M458.8 677.2V691M429.3 691.6H472.8M429.3 684.7V698.5M472.8 684.7V698.5M412.5 699.1H478.1M412.5 692.2V706M478.1 692.2V706M406 706.5H457.7M406 699.6V713.4M457.7 699.6V713.4M383.5 714H437.8M383.5 707.1V720.9M437.8 707.1V720.9M378.4 721.4H434.5M378.4 714.5V728.3M434.5 714.5V728.3M351 728.9H409.1M351 722V735.8M409.1 722V735.8M344.1 736.3H418.9M344.1 729.4V743.2M418.9 729.4V743.2M354.7 743.8H404.8M354.7 736.9V750.7M404.8 736.9V750.7M329.6 751.2H388.7M329.6 744.3V758.1M388.7 744.3V758.1M316.7 758.7H382.7M316.7 751.8V765.6M382.7 751.8V765.6M297.5 766.2H351.4M297.5 759.3V773.1M351.4 759.3V773.1M287.1 773.6H357.7M287.1 766.7V780.5M357.7 766.7V780.5M283.7 781.1H331M283.7 774.2V788M331 774.2V788M267 788.5H324.4M267 781.6V795.4M324.4 781.6V795.4M268 796H321.4M268 789.1V802.9M321.4 789.1V802.9M249.9 803.4H300.6M249.9 796.5V810.3M300.6 796.5V810.3M251.5 810.9H293M251.5 804V817.8M293 804V817.8M226.8 818.3H292.1M226.8 811.4V825.2M292.1 811.4V825.2M228.8 825.8H292.6M228.8 818.9V832.7M292.6 818.9V832.7M216.6 833.2H279.4M216.6 826.4V840.1M279.4 826.4V840.1M209.7 840.7H263.7M209.7 833.8V847.6M263.7 833.8V847.6M234.8 848.2H268.6M234.8 841.3V855.1M268.6 841.3V855.1M308.7 855.6H401.7M308.7 848.7V862.5M401.7 848.7V862.5M322.8 863.1H353.8M322.8 856.2V870M353.8 856.2V870M316.3 870.5H368.1M316.3 863.6V877.4M368.1 863.6V877.4M326.9 878H419.9M326.9 871.1V884.9M419.9 871.1V884.9M310 885.4H396.1M310 878.5V892.3M396.1 878.5V892.3M305 892.9H388.7M305 886V899.8M388.7 886V899.8M309.6 900.3H371.8M309.6 893.4V907.2M371.8 893.4V907.2M282.3 907.8H332M282.3 900.9V914.7M332 900.9V914.7M260.7 915.3H300.3M260.7 908.4V922.2M300.3 908.4V922.2M229.5 922.7H286.9M229.5 915.8V929.6M286.9 915.8V929.6M226.8 930.2H260.5M226.8 923.3V937.1M260.5 923.3V937.1M228.5 937.6H262.6M228.5 930.7V944.5M262.6 930.7V944.5M215.2 945.1H285.1M215.2 938.2V952M285.1 938.2V952M250.1 952.5H289.1M250.1 945.6V959.4M289.1 945.6V959.4M256.2 960H297.9M256.2 953.1V966.9M297.9 953.1V966.9M244.5 967.4H317.7M244.5 960.5V974.3M317.7 960.5V974.3M258.5 974.9H304.9M258.5 968V981.8M304.9 968V981.8M254.9 982.4H308.5M254.9 975.5V989.2M308.5 975.5V989.2M270.3 989.8H300.9M270.3 982.9V996.7M300.9 982.9V996.7M266.6 997.3H309.4M266.6 990.4V1004.2M309.4 990.4V1004.2M253.6 1004.7H329.9M253.6 997.8V1011.6M329.9 997.8V1011.6M274.7 1012.2H323.9M274.7 1005.3V1019.1M323.9 1005.3V1019.1M300.3 1019.6H344.3M300.3 1012.7V1026.5M344.3 1012.7V1026.5M278.8 1027.1H347.7M278.8 1020.2V1034M347.7 1020.2V1034M247.3 1034.5H314.5M247.3 1027.6V1041.4M314.5 1027.6V1041.4M229 1042H278M229 1035.1V1048.9M278 1035.1V1048.9M262 1049.4H335.7M262 1042.5V1056.3M335.7 1042.5V1056.3" stroke="#000" stroke-width="1.5" fill="none"/>
<path d="M275 609.6L267.9 617.1L272 624.5L295.3 632L292 639.4L312.4 646.9L355.1 654.3L385.8 661.8L381.1 669.2L445.2 676.7L435.4 684.1L451.3 691.6L446.4 699.1L432.5 706.5L411.1 714L407.8 721.4L381.1 728.9L381.1 736.3L380 743.8L358.6 751.2L348.9 758.7L323.2 766.2L321.2 773.6L307.5 781.1L294.6 788.5L294.6 796L274.3 803.4L273.2 810.9L258.2 818.3L260.4 825.8L248.6 833.2L237.9 840.7L251.8 848.2L355.7 855.6L338 863.1L342.9 870.5L373.9 878L355 885.4L345 892.9L339.6 900.3L306.4 907.8L280 915.3L257.1 922.7L243.2 930.2L245.5 937.6L252 945.1L270 952.5L278 960L280 967.4L282 974.9L283 982.4L285 989.8L288 997.3L290 1004.7L300 1012.2L321.4 1019.6L314.3 1027.1L281.4 1034.5L254.3 1042L297.1 1049.4" stroke="#000" stroke-width="1.3" fill="none"/>
<g stroke="#000" stroke-width="0.7" stroke-linejoin="round"><path d="M269.4 606.3H280.6L275 616.5Z"/><path d="M262.3 613.8H273.5L267.9 624Z"/><path d="M266.4 621.2H277.6L272 631.4Z"/><path d="M289.7 628.7H300.9L295.3 638.9Z"/><path d="M286.4 636.1H297.6L292 646.3Z"/><path d="M306.8 643.6H318L312.4 653.8Z"/><path d="M349.5 651H360.7L355.1 661.2Z"/><path d="M380.2 658.5H391.4L385.8 668.7Z"/><path d="M375.5 665.9H386.7L381.1 676.1Z"/><path d="M439.6 673.4H450.8L445.2 683.6Z"/><path d="M429.8 680.9H441L435.4 691Z"/><path d="M445.7 688.3H456.9L451.3 698.5Z"/><path d="M440.8 695.8H452L446.4 706Z"/><path d="M426.9 703.2H438.1L432.5 713.4Z"/><path d="M405.5 710.7H416.7L411.1 720.9Z"/><path d="M402.2 718.1H413.4L407.8 728.3Z"/><path d="M375.5 725.6H386.7L381.1 735.8Z"/><path d="M375.5 733H386.7L381.1 743.2Z"/><path d="M374.4 740.5H385.6L380 750.7Z"/><path d="M353 747.9H364.2L358.6 758.1Z"/><path d="M343.3 755.4H354.5L348.9 765.6Z"/><path d="M317.6 762.9H328.8L323.2 773.1Z"/><path d="M315.6 770.3H326.8L321.2 780.5Z"/><path d="M301.9 777.8H313.1L307.5 788Z"/><path d="M289 785.2H300.2L294.6 795.4Z"/><path d="M289 792.7H300.2L294.6 802.9Z"/><path d="M268.7 800.1H279.9L274.3 810.3Z"/><path d="M267.6 807.6H278.8L273.2 817.8Z"/><path d="M252.6 815H263.8L258.2 825.2Z"/><path d="M254.8 822.5H266L260.4 832.7Z"/><path d="M243 830H254.2L248.6 840.1Z"/><path d="M232.3 837.4H243.5L237.9 847.6Z"/><path d="M246.2 844.9H257.4L251.8 855.1Z"/><path d="M350.1 852.3H361.3L355.7 862.5Z"/><path d="M332.4 859.8H343.6L338 870Z"/><path d="M337.3 867.2H348.5L342.9 877.4Z"/><path d="M368.3 874.7H379.5L373.9 884.9Z"/><path d="M349.4 882.1H360.6L355 892.3Z"/><path d="M339.4 889.6H350.6L345 899.8Z"/><path d="M334 897H345.2L339.6 907.2Z"/><path d="M300.8 904.5H312L306.4 914.7Z"/><path d="M274.4 912H285.6L280 922.2Z"/><path d="M251.5 919.4H262.7L257.1 929.6Z"/><path d="M237.6 926.9H248.8L243.2 937.1Z"/><path d="M239.9 934.3H251.1L245.5 944.5Z"/><path d="M246.4 941.8H257.6L252 952Z"/><path d="M264.4 949.2H275.6L270 959.4Z"/><path d="M272.4 956.7H283.6L278 966.9Z"/><path d="M274.4 964.1H285.6L280 974.3Z"/><path d="M276.4 971.6H287.6L282 981.8Z"/><path d="M277.4 979.1H288.6L283 989.2Z"/><path d="M279.4 986.5H290.6L285 996.7Z"/><path d="M282.4 994H293.6L288 1004.2Z"/><path d="M284.4 1001.4H295.6L290 1011.6Z"/><path d="M294.4 1008.9H305.6L300 1019.1Z"/><path d="M315.8 1016.3H327L321.4 1026.5Z"/><path d="M308.7 1023.8H319.9L314.3 1034Z"/><path d="M275.8 1031.2H287L281.4 1041.4Z"/><path d="M248.7 1038.7H259.9L254.3 1048.9Z"/><path d="M291.5 1046.1H302.7L297.1 1056.3Z"/></g>
<path d="M960 609.6H980.3M960 602.7V616.5M980.3 602.7V616.5M967.1 617.1H987.7M967.1 610.2V624M987.7 610.2V624M971.1 624.5H987.4M971.1 617.6V631.4M987.4 617.6V631.4M987.3 632H1017.3M987.3 625.1V638.9M1017.3 625.1V638.9M1009.4 639.4H1063.7M1009.4 632.5V646.3M1063.7 632.5V646.3M1060.8 646.9H1104.8M1060.8 640V653.8M1104.8 640V653.8M1057.5 654.3H1104.5M1057.5 647.4V661.2M1104.5 647.4V661.2M1056.4 661.8H1090.9M1056.4 654.9V668.7M1090.9 654.9V668.7M1074.6 669.2H1102.1M1074.6 662.3V676.1M1102.1 662.3V676.1M1052.8 676.7H1097M1052.8 669.8V683.6M1097 669.8V683.6M1038.5 684.1H1064.4M1038.5 677.2V691M1064.4 677.2V691M1015 691.6H1060.2M1015 684.7V698.5M1060.2 684.7V698.5M1012.3 699.1H1046.2M1012.3 692.2V706M1046.2 692.2V706M1000.5 706.5H1052.8M1000.5 699.6V713.4M1052.8 699.6V713.4M1002.3 714H1030M1002.3 707.1V720.9M1030 707.1V720.9M987.7 721.4H1042M987.7 714.5V728.3M1042 714.5V728.3M978 728.9H1008.4M978 722V735.8M1008.4 722V735.8M982.4 736.3H1006.7M982.4 729.4V743.2M1006.7 729.4V743.2M980.1 743.8H1016M980.1 736.9V750.7M1016 736.9V750.7M975.4 751.2H1012.8M975.4 744.3V758.1M1012.8 744.3V758.1M962.2 758.7H1002.9M962.2 751.8V765.6M1002.9 751.8V765.6M976.5 766.2H1006.4M976.5 759.3V773.1M1006.4 759.3V773.1M970.8 773.6H993.5M970.8 766.7V780.5M993.5 766.7V780.5M936.9 781.1H1002.4M936.9 774.2V788M1002.4 774.2V788M939.2 788.5H982M939.2 781.6V795.4M982 781.6V795.4M936.2 796H975.3M936.2 789.1V802.9M975.3 789.1V802.9M910 803.4H985.7M910 796.5V810.3M985.7 796.5V810.3M919.8 810.9H973.1M919.8 804V817.8M973.1 804V817.8M920 818.3H970.1M920 811.4V825.2M970.1 811.4V825.2M915 825.8H967.3M915 818.9V832.7M967.3 818.9V832.7M912.1 833.2H969.9M912.1 826.4V840.1M969.9 826.4V840.1M949.9 840.7H997.4M949.9 833.8V847.6M997.4 833.8V847.6M1025.4 848.2H1139.6M1025.4 841.3V855.1M1139.6 841.3V855.1M1036.4 855.6H1164.7M1036.4 848.7V862.5M1164.7 848.7V862.5M1049.9 863.1H1113.6M1049.9 856.2V870M1113.6 856.2V870M1054.4 870.5H1129.3M1054.4 863.6V877.4M1129.3 863.6V877.4M1102.3 878H1168.6M1102.3 871.1V884.9M1168.6 871.1V884.9M1130.8 885.4H1188.8M1130.8 878.5V892.3M1188.8 878.5V892.3M1116.8 892.9H1169.1M1116.8 886V899.8M1169.1 886V899.8M1073 900.3H1144M1073 893.4V907.2M1144 893.4V907.2M1055.9 907.8H1096.1M1055.9 900.9V914.7M1096.1 900.9V914.7M1040.2 915.3H1080.1M1040.2 908.4V922.2M1080.1 908.4V922.2M1005.6 922.7H1057.1M1005.6 915.8V929.6M1057.1 915.8V929.6M1005.4 930.2H1065.7M1005.4 923.3V937.1M1065.7 923.3V937.1M1000.1 937.6H1060M1000.1 930.7V944.5M1060 930.7V944.5M1014.7 945.1H1050.8M1014.7 938.2V952M1050.8 938.2V952M1042.9 952.5H1071.9M1042.9 945.6V959.4M1071.9 945.6V959.4M1043.3 960H1093.6M1043.3 953.1V966.9M1093.6 953.1V966.9M1026.3 967.4H1069.2M1026.3 960.5V974.3M1069.2 960.5V974.3M1059.1 974.9H1092.2M1059.1 968V981.8M1092.2 968V981.8M1051.2 982.4H1109M1051.2 975.5V989.2M1109 975.5V989.2M1058.8 989.8H1126.2M1058.8 982.9V996.7M1126.2 982.9V996.7M1084.2 997.3H1119.1M1084.2 990.4V1004.2M1119.1 990.4V1004.2M1035.5 1004.7H1065.1M1035.5 997.8V1011.6M1065.1 997.8V1011.6M1071 1012.2H1131.5M1071 1005.3V1019.1M1131.5 1005.3V1019.1M1091.4 1019.6H1133.6M1091.4 1012.7V1026.5M1133.6 1012.7V1026.5M1048.8 1027.1H1082.4M1048.8 1020.2V1034M1082.4 1020.2V1034M965.7 1034.5H1059.3M965.7 1027.6V1041.4M1059.3 1027.6V1041.4M1044.4 1042H1081.4M1044.4 1035.1V1048.9M1081.4 1035.1V1048.9M1083.6 1049.4H1156.8M1083.6 1042.5V1056.3M1156.8 1042.5V1056.3" stroke="#000" stroke-width="1.5" fill="none"/>
<path d="M970 609.6L977 617.1L979.6 624.5L1002.6 632L1035.6 639.4L1083.6 646.9L1080 654.3L1074.4 661.8L1088.6 669.2L1075.6 676.7L1051.8 684.1L1037 691.6L1029 699.1L1026.4 706.5L1016.4 714L1014.4 721.4L993 728.9L994 736.3L998 743.8L995 751.2L983 758.7L991 766.2L982.4 773.6L970.5 781.1L960.5 788.5L955 796L949.7 803.4L945.8 810.9L944 818.3L942 825.8L940.6 833.2L973.3 840.7L1082.4 848.2L1098.4 855.6L1081.7 863.1L1093.1 870.5L1136.6 878L1160.6 885.4L1142.3 892.9L1107.5 900.3L1076 907.8L1060 915.3L1032.6 922.7L1034.9 930.2L1029 937.6L1033.4 945.1L1057.4 952.5L1068.6 960L1047.1 967.4L1075 974.9L1080 982.4L1093.4 989.8L1102 997.3L1050.6 1004.7L1101.2 1012.2L1112.3 1019.6L1065.1 1027.1L1013.7 1034.5L1062.6 1042L1119.2 1049.4" stroke="#000" stroke-width="1.3" fill="none"/>
<circle cx="970" cy="609.6" r="5.8"/><circle cx="977" cy="617.1" r="5.8"/><circle cx="979.6" cy="624.5" r="5.8"/><circle cx="1002.6" cy="632" r="5.8"/><circle cx="1035.6" cy="639.4" r="5.8"/><circle cx="1083.6" cy="646.9" r="5.8"/><circle cx="1080" cy="654.3" r="5.8"/><circle cx="1074.4" cy="661.8" r="5.8"/><circle cx="1088.6" cy="669.2" r="5.8"/><circle cx="1075.6" cy="676.7" r="5.8"/><circle cx="1051.8" cy="684.1" r="5.8"/><circle cx="1037" cy="691.6" r="5.8"/><circle cx="1029" cy="699.1" r="5.8"/><circle cx="1026.4" cy="706.5" r="5.8"/><circle cx="1016.4" cy="714" r="5.8"/><circle cx="1014.4" cy="721.4" r="5.8"/><circle cx="993" cy="728.9" r="5.8"/><circle cx="994" cy="736.3" r="5.8"/><circle cx="998" cy="743.8" r="5.8"/><circle cx="995" cy="751.2" r="5.8"/><circle cx="983" cy="758.7" r="5.8"/><circle cx="991" cy="766.2" r="5.8"/><circle cx="982.4" cy="773.6" r="5.8"/><circle cx="970.5" cy="781.1" r="5.8"/><circle cx="960.5" cy="788.5" r="5.8"/><circle cx="955" cy="796" r="5.8"/><circle cx="949.7" cy="803.4" r="5.8"/><circle cx="945.8" cy="810.9" r="5.8"/><circle cx="944" cy="818.3" r="5.8"/><circle cx="942" cy="825.8" r="5.8"/><circle cx="940.6" cy="833.2" r="5.8"/><circle cx="973.3" cy="840.7" r="5.8"/><circle cx="1082.4" cy="848.2" r="5.8"/><circle cx="1098.4" cy="855.6" r="5.8"/><circle cx="1081.7" cy="863.1" r="5.8"/><circle cx="1093.1" cy="870.5" r="5.8"/><circle cx="1136.6" cy="878" r="5.8"/><circle cx="1160.6" cy="885.4" r="5.8"/><circle cx="1142.3" cy="892.9" r="5.8"/><circle cx="1107.5" cy="900.3" r="5.8"/><circle cx="1076" cy="907.8" r="5.8"/><circle cx="1060" cy="915.3" r="5.8"/><circle cx="1032.6" cy="922.7" r="5.8"/><circle cx="1034.9" cy="930.2" r="5.8"/><circle cx="1029" cy="937.6" r="5.8"/><circle cx="1033.4" cy="945.1" r="5.8"/><circle cx="1057.4" cy="952.5" r="5.8"/><circle cx="1068.6" cy="960" r="5.8"/><circle cx="1047.1" cy="967.4" r="5.8"/><circle cx="1075" cy="974.9" r="5.8"/><circle cx="1080" cy="982.4" r="5.8"/><circle cx="1093.4" cy="989.8" r="5.8"/><circle cx="1102" cy="997.3" r="5.8"/><circle cx="1050.6" cy="1004.7" r="5.8"/><circle cx="1101.2" cy="1012.2" r="5.8"/><circle cx="1112.3" cy="1019.6" r="5.8"/><circle cx="1065.1" cy="1027.1" r="5.8"/><circle cx="1013.7" cy="1034.5" r="5.8"/><circle cx="1062.6" cy="1042" r="5.8"/><circle cx="1119.2" cy="1049.4" r="5.8"/>
<path d="M1045 609.6H1062.1M1045 602.7V616.5M1062.1 602.7V616.5M1042 617.1H1064.6M1042 610.2V624M1064.6 610.2V624M1024.3 624.5H1058.1M1024.3 617.6V631.4M1058.1 617.6V631.4M1040.7 632H1067.2M1040.7 625.1V638.9M1067.2 625.1V638.9M1055.2 639.4H1108.8M1055.2 632.5V646.3M1108.8 632.5V646.3M1080.4 646.9H1117.7M1080.4 640V653.8M1117.7 640V653.8M1092.3 654.3H1113.2M1092.3 647.4V661.2M1113.2 647.4V661.2M1096 661.8H1146.2M1096 654.9V668.7M1146.2 654.9V668.7M1081.9 669.2H1115.4M1081.9 662.3V676.1M1115.4 662.3V676.1M1088.8 676.7H1122.5M1088.8 669.8V683.6M1122.5 669.8V683.6M1112.4 684.1H1134.7M1112.4 677.2V691M1134.7 677.2V691M1082.3 691.6H1130.9M1082.3 684.7V698.5M1130.9 684.7V698.5M1089.9 699.1H1117.4M1089.9 692.2V706M1117.4 692.2V706M1072.1 706.5H1110.9M1072.1 699.6V713.4M1110.9 699.6V713.4M1046.1 714H1084.3M1046.1 707.1V720.9M1084.3 707.1V720.9M1043.4 721.4H1076M1043.4 714.5V728.3M1076 714.5V728.3M1021.3 728.9H1077.3M1021.3 722V735.8M1077.3 722V735.8M1030.9 736.3H1052.1M1030.9 729.4V743.2M1052.1 729.4V743.2M1003.9 743.8H1045.4M1003.9 736.9V750.7M1045.4 736.9V750.7M1003.4 751.2H1036.4M1003.4 744.3V758.1M1036.4 744.3V758.1M991.4 758.7H1043M991.4 751.8V765.6M1043 751.8V765.6M972.7 766.2H1024.5M972.7 759.3V773.1M1024.5 759.3V773.1M973 773.6H1008.3M973 766.7V780.5M1008.3 766.7V780.5M968.1 781.1H1017.3M968.1 774.2V788M1017.3 774.2V788M963.3 788.5H1001.9M963.3 781.6V795.4M1001.9 781.6V795.4M960.6 796H998.4M960.6 789.1V802.9M998.4 789.1V802.9M937.1 803.4H972.6M937.1 796.5V810.3M972.6 796.5V810.3M934.7 810.9H973.7M934.7 804V817.8M973.7 804V817.8M929.3 818.3H973.1M929.3 811.4V825.2M973.1 811.4V825.2M908.8 825.8H989.9M908.8 818.9V832.7M989.9 818.9V832.7M926.3 833.2H997M926.3 826.4V840.1M997 826.4V840.1M926.9 840.7H972.8M926.9 833.8V847.6M972.8 833.8V847.6M939.2 848.2H1002.3M939.2 841.3V855.1M1002.3 841.3V855.1M969.2 855.6H1009.4M969.2 848.7V862.5M1009.4 848.7V862.5M1043.6 863.1H1080.1M1043.6 856.2V870M1080.1 856.2V870M1044.5 870.5H1095M1044.5 863.6V877.4M1095 863.6V877.4M1041.1 878H1104.8M1041.1 871.1V884.9M1104.8 871.1V884.9M1048 885.4H1093.2M1048 878.5V892.3M1093.2 878.5V892.3M1092.5 892.9H1168.2M1092.5 886V899.8M1168.2 886V899.8M1092.4 900.3H1161.7M1092.4 893.4V907.2M1161.7 893.4V907.2M1049.8 907.8H1121.4M1049.8 900.9V914.7M1121.4 900.9V914.7M1039.9 915.3H1084.2M1039.9 908.4V922.2M1084.2 908.4V922.2M1026 922.7H1059.6M1026 915.8V929.6M1059.6 915.8V929.6M1004.4 930.2H1050.6M1004.4 923.3V937.1M1050.6 923.3V937.1M977.6 937.6H1030.2M977.6 930.7V944.5M1030.2 930.7V944.5M976.7 945.1H1023.9M976.7 938.2V952M1023.9 938.2V952M993.5 952.5H1022.6M993.5 945.6V959.4M1022.6 945.6V959.4M997.6 960H1053.8M997.6 953.1V966.9M1053.8 953.1V966.9M1020.8 967.4H1064.7M1020.8 960.5V974.3M1064.7 960.5V974.3M1039.1 974.9H1093.3M1039.1 968V981.8M1093.3 968V981.8M1029.7 982.4H1092.9M1029.7 975.5V989.2M1092.9 975.5V989.2M1022.1 989.8H1089M1022.1 982.9V996.7M1089 982.9V996.7M1062.4 997.3H1097M1062.4 990.4V1004.2M1097 990.4V1004.2M1004.1 1004.7H1047.6M1004.1 997.8V1011.6M1047.6 997.8V1011.6M1023.2 1012.2H1071.7M1023.2 1005.3V1019.1M1071.7 1005.3V1019.1M1037.6 1019.6H1108.6M1037.6 1012.7V1026.5M1108.6 1012.7V1026.5M1074.4 1027.1H1116.9M1074.4 1020.2V1034M1116.9 1020.2V1034M1014.7 1034.5H1052.1M1014.7 1027.6V1041.4M1052.1 1027.6V1041.4M1000 1042H1029.6M1000 1035.1V1048.9M1029.6 1035.1V1048.9M1039 1049.4H1098.2M1039 1042.5V1056.3M1098.2 1042.5V1056.3" stroke="#000" stroke-width="1.5" fill="none"/>
<path d="M1053.6 609.6L1053.6 617.1L1042 624.5L1053.6 632L1083 639.4L1098.6 646.9L1103 654.3L1122 661.8L1099 669.2L1106.4 676.7L1123 684.1L1106 691.6L1104 699.1L1092 706.5L1064.4 714L1060 721.4L1049 728.9L1041.6 736.3L1025.6 743.8L1019.6 751.2L1017 758.7L998.7 766.2L990.1 773.6L992 781.1L982.9 788.5L979.4 796L955.4 803.4L954.3 810.9L951.3 818.3L948.6 825.8L962.7 833.2L950.9 840.7L971.2 848.2L990.3 855.6L1062.3 863.1L1068.7 870.5L1073.7 878L1071.4 885.4L1130.9 892.9L1126.3 900.3L1087.4 907.8L1062.3 915.3L1042.2 922.7L1026.9 930.2L1005.1 937.6L1000.9 945.1L1008.6 952.5L1027.1 960L1042.9 967.4L1067.2 974.9L1062.1 982.4L1055 989.8L1080.2 997.3L1025.4 1004.7L1047.7 1012.2L1074.1 1019.6L1096 1027.1L1034.3 1034.5L1014.6 1042L1067.7 1049.4" stroke="#000" stroke-width="1.3" fill="none"/>
<g fill="#fff" stroke="#000" stroke-width="1.5"><circle cx="1053.6" cy="609.6" r="5.25"/><circle cx="1053.6" cy="617.1" r="5.25"/><circle cx="1042" cy="624.5" r="5.25"/><circle cx="1053.6" cy="632" r="5.25"/><circle cx="1083" cy="639.4" r="5.25"/><circle cx="1098.6" cy="646.9" r="5.25"/><circle cx="1103" cy="654.3" r="5.25"/><circle cx="1122" cy="661.8" r="5.25"/><circle cx="1099" cy="669.2" r="5.25"/><circle cx="1106.4" cy="676.7" r="5.25"/><circle cx="1123" cy="684.1" r="5.25"/><circle cx="1106" cy="691.6" r="5.25"/><circle cx="1104" cy="699.1" r="5.25"/><circle cx="1092" cy="706.5" r="5.25"/><circle cx="1064.4" cy="714" r="5.25"/><circle cx="1060" cy="721.4" r="5.25"/><circle cx="1049" cy="728.9" r="5.25"/><circle cx="1041.6" cy="736.3" r="5.25"/><circle cx="1025.6" cy="743.8" r="5.25"/><circle cx="1019.6" cy="751.2" r="5.25"/><circle cx="1017" cy="758.7" r="5.25"/><circle cx="998.7" cy="766.2" r="5.25"/><circle cx="990.1" cy="773.6" r="5.25"/><circle cx="992" cy="781.1" r="5.25"/><circle cx="982.9" cy="788.5" r="5.25"/><circle cx="979.4" cy="796" r="5.25"/><circle cx="955.4" cy="803.4" r="5.25"/><circle cx="954.3" cy="810.9" r="5.25"/><circle cx="951.3" cy="818.3" r="5.25"/><circle cx="948.6" cy="825.8" r="5.25"/><circle cx="962.7" cy="833.2" r="5.25"/><circle cx="950.9" cy="840.7" r="5.25"/><circle cx="971.2" cy="848.2" r="5.25"/><circle cx="990.3" cy="855.6" r="5.25"/><circle cx="1062.3" cy="863.1" r="5.25"/><circle cx="1068.7" cy="870.5" r="5.25"/><circle cx="1073.7" cy="878" r="5.25"/><circle cx="1071.4" cy="885.4" r="5.25"/><circle cx="1130.9" cy="892.9" r="5.25"/><circle cx="1126.3" cy="900.3" r="5.25"/><circle cx="1087.4" cy="907.8" r="5.25"/><circle cx="1062.3" cy="915.3" r="5.25"/><circle cx="1042.2" cy="922.7" r="5.25"/><circle cx="1026.9" cy="930.2" r="5.25"/><circle cx="1005.1" cy="937.6" r="5.25"/><circle cx="1000.9" cy="945.1" r="5.25"/><circle cx="1008.6" cy="952.5" r="5.25"/><circle cx="1027.1" cy="960" r="5.25"/><circle cx="1042.9" cy="967.4" r="5.25"/><circle cx="1067.2" cy="974.9" r="5.25"/><circle cx="1062.1" cy="982.4" r="5.25"/><circle cx="1055" cy="989.8" r="5.25"/><circle cx="1080.2" cy="997.3" r="5.25"/><circle cx="1025.4" cy="1004.7" r="5.25"/><circle cx="1047.7" cy="1012.2" r="5.25"/><circle cx="1074.1" cy="1019.6" r="5.25"/><circle cx="1096" cy="1027.1" r="5.25"/><circle cx="1034.3" cy="1034.5" r="5.25"/><circle cx="1014.6" cy="1042" r="5.25"/><circle cx="1067.7" cy="1049.4" r="5.25"/></g>
<path d="M944.2 609.6H979M944.2 602.7V616.5M979 602.7V616.5M957.7 617.1H988.3M957.7 610.2V624M988.3 610.2V624M980.8 624.5H1001.5M980.8 617.6V631.4M1001.5 617.6V631.4M1006.3 632H1037M1006.3 625.1V638.9M1037 625.1V638.9M1052.4 639.4H1102.3M1052.4 632.5V646.3M1102.3 632.5V646.3M1087.6 646.9H1128.6M1087.6 640V653.8M1128.6 640V653.8M1117.3 654.3H1152.3M1117.3 647.4V661.2M1152.3 647.4V661.2M1101.9 661.8H1123.8M1101.9 654.9V668.7M1123.8 654.9V668.7M1119.1 669.2H1150.9M1119.1 662.3V676.1M1150.9 662.3V676.1M1113 676.7H1142M1113 669.8V683.6M1142 669.8V683.6M1117.8 684.1H1152.2M1117.8 677.2V691M1152.2 677.2V691M1100 691.6H1126.4M1100 684.7V698.5M1126.4 684.7V698.5M1094.7 699.1H1122.2M1094.7 692.2V706M1122.2 692.2V706M1068.8 706.5H1100.9M1068.8 699.6V713.4M1100.9 699.6V713.4M1085.3 714H1110.9M1085.3 707.1V720.9M1110.9 707.1V720.9M1045.4 721.4H1090.9M1045.4 714.5V728.3M1090.9 714.5V728.3M1046.4 728.9H1089.4M1046.4 722V735.8M1089.4 722V735.8M1042 736.3H1075.6M1042 729.4V743.2M1075.6 729.4V743.2M1051.9 743.8H1073.9M1051.9 736.9V750.7M1073.9 736.9V750.7M1040 751.2H1062M1040 744.3V758.1M1062 744.3V758.1M1030.5 758.7H1071.4M1030.5 751.8V765.6M1071.4 751.8V765.6M1034.1 766.2H1065.1M1034.1 759.3V773.1M1065.1 759.3V773.1M1017.3 773.6H1037.8M1017.3 766.7V780.5M1037.8 766.7V780.5M1013.8 781.1H1088.7M1013.8 774.2V788M1088.7 774.2V788M985.4 788.5H1027.7M985.4 781.6V795.4M1027.7 781.6V795.4M991 796H1028.5M991 789.1V802.9M1028.5 789.1V802.9M959.3 803.4H1022M959.3 796.5V810.3M1022 796.5V810.3M959 810.9H1006.2M959 804V817.8M1006.2 804V817.8M927.9 818.3H1007M927.9 811.4V825.2M1007 811.4V825.2M924 825.8H985.3M924 818.9V832.7M985.3 818.9V832.7M960.9 833.2H1009.9M960.9 826.4V840.1M1009.9 826.4V840.1M939.9 840.7H983.7M939.9 833.8V847.6M983.7 833.8V847.6M926.3 848.2H999.2M926.3 841.3V855.1M999.2 841.3V855.1M1014.7 855.6H1086.5M1014.7 848.7V862.5M1086.5 848.7V862.5M1000.6 863.1H1160.7M1000.6 856.2V870M1160.7 856.2V870M1073 870.5H1116.4M1073 863.6V877.4M1116.4 863.6V877.4M1066.3 878H1142.3M1066.3 871.1V884.9M1142.3 871.1V884.9M1059.3 885.4H1096.3M1059.3 878.5V892.3M1096.3 878.5V892.3M1047.7 892.9H1109.4M1047.7 886V899.8M1109.4 886V899.8M1050.1 900.3H1078.2M1050.1 893.4V907.2M1078.2 893.4V907.2M1025.5 907.8H1072.7M1025.5 900.9V914.7M1072.7 900.9V914.7M1006.9 915.3H1061.3M1006.9 908.4V922.2M1061.3 908.4V922.2M997.9 922.7H1055.2M997.9 915.8V929.6M1055.2 915.8V929.6M1001.4 930.2H1060.5M1001.4 923.3V937.1M1060.5 923.3V937.1M986.8 937.6H1063.9M986.8 930.7V944.5M1063.9 930.7V944.5M1035.3 945.1H1083.1M1035.3 938.2V952M1083.1 938.2V952M1045.6 952.5H1090.8M1045.6 945.6V959.4M1090.8 945.6V959.4M1039.9 960H1105.3M1039.9 953.1V966.9M1105.3 953.1V966.9M1036.3 967.4H1117M1036.3 960.5V974.3M1117 960.5V974.3M1063.3 974.9H1100M1063.3 968V981.8M1100 968V981.8M1026.3 982.4H1080.2M1026.3 975.5V989.2M1080.2 975.5V989.2M1027 989.8H1073.2M1027 982.9V996.7M1073.2 982.9V996.7M1031.6 997.3H1098.8M1031.6 990.4V1004.2M1098.8 990.4V1004.2M1078.4 1004.7H1117.8M1078.4 997.8V1011.6M1117.8 997.8V1011.6M1075.6 1012.2H1119M1075.6 1005.3V1019.1M1119 1005.3V1019.1M1019.7 1019.6H1072.4M1019.7 1012.7V1026.5M1072.4 1012.7V1026.5M1049.5 1027.1H1079.4M1049.5 1020.2V1034M1079.4 1020.2V1034M1087.9 1034.5H1121.9M1087.9 1027.6V1041.4M1121.9 1027.6V1041.4M1086 1042H1119.7M1086 1035.1V1048.9M1119.7 1035.1V1048.9M1067.9 1049.4H1135.9M1067.9 1042.5V1056.3M1135.9 1042.5V1056.3" stroke="#000" stroke-width="1.5" fill="none"/>
<path d="M962 609.6L972.4 617.1L991 624.5L1021 632L1078 639.4L1109 646.9L1135 654.3L1113 661.8L1135 669.2L1128 676.7L1135 684.1L1113 691.6L1109 699.1L1085 706.5L1098 714L1068 721.4L1069 728.9L1059 736.3L1063 743.8L1051 751.2L1051 758.7L1050 766.2L1027.7 773.6L1051 781.1L1006.2 788.5L1009.8 796L989.3 803.4L982.4 810.9L966.4 818.3L954.3 825.8L985.6 833.2L961.1 840.7L963.2 848.2L1052.3 855.6L1080.6 863.1L1095 870.5L1105.7 878L1078.3 885.4L1079.4 892.9L1064.1 900.3L1049.7 907.8L1033.7 915.3L1026.2 922.7L1030 930.2L1026 937.6L1058.3 945.1L1067.7 952.5L1072 960L1075.4 967.4L1081.4 974.9L1053.1 982.4L1050.6 989.8L1065.1 997.3L1098.6 1004.7L1098 1012.2L1047.1 1019.6L1065.1 1027.1L1104.6 1034.5L1102.9 1042L1102 1049.4" stroke="#000" stroke-width="1.3" fill="none"/>
<g stroke="#000" stroke-width="0.7" stroke-linejoin="round"><path d="M956.4 606.3H967.6L962 616.5Z"/><path d="M966.8 613.8H978L972.4 624Z"/><path d="M985.4 621.2H996.6L991 631.4Z"/><path d="M1015.4 628.7H1026.6L1021 638.9Z"/><path d="M1072.4 636.1H1083.6L1078 646.3Z"/><path d="M1103.4 643.6H1114.6L1109 653.8Z"/><path d="M1129.4 651H1140.6L1135 661.2Z"/><path d="M1107.4 658.5H1118.6L1113 668.7Z"/><path d="M1129.4 665.9H1140.6L1135 676.1Z"/><path d="M1122.4 673.4H1133.6L1128 683.6Z"/><path d="M1129.4 680.9H1140.6L1135 691Z"/><path d="M1107.4 688.3H1118.6L1113 698.5Z"/><path d="M1103.4 695.8H1114.6L1109 706Z"/><path d="M1079.4 703.2H1090.6L1085 713.4Z"/><path d="M1092.4 710.7H1103.6L1098 720.9Z"/><path d="M1062.4 718.1H1073.6L1068 728.3Z"/><path d="M1063.4 725.6H1074.6L1069 735.8Z"/><path d="M1053.4 733H1064.6L1059 743.2Z"/><path d="M1057.4 740.5H1068.6L1063 750.7Z"/><path d="M1045.4 747.9H1056.6L1051 758.1Z"/><path d="M1045.4 755.4H1056.6L1051 765.6Z"/><path d="M1044.4 762.9H1055.6L1050 773.1Z"/><path d="M1022.1 770.3H1033.3L1027.7 780.5Z"/><path d="M1045.4 777.8H1056.6L1051 788Z"/><path d="M1000.6 785.2H1011.8L1006.2 795.4Z"/><path d="M1004.2 792.7H1015.4L1009.8 802.9Z"/><path d="M983.7 800.1H994.9L989.3 810.3Z"/><path d="M976.8 807.6H988L982.4 817.8Z"/><path d="M960.8 815H972L966.4 825.2Z"/><path d="M948.7 822.5H959.9L954.3 832.7Z"/><path d="M980 830H991.2L985.6 840.1Z"/><path d="M955.5 837.4H966.7L961.1 847.6Z"/><path d="M957.6 844.9H968.8L963.2 855.1Z"/><path d="M1046.7 852.3H1057.9L1052.3 862.5Z"/><path d="M1075 859.8H1086.2L1080.6 870Z"/><path d="M1089.4 867.2H1100.6L1095 877.4Z"/><path d="M1100.1 874.7H1111.3L1105.7 884.9Z"/><path d="M1072.7 882.1H1083.9L1078.3 892.3Z"/><path d="M1073.8 889.6H1085L1079.4 899.8Z"/><path d="M1058.5 897H1069.7L1064.1 907.2Z"/><path d="M1044.1 904.5H1055.3L1049.7 914.7Z"/><path d="M1028.1 912H1039.3L1033.7 922.2Z"/><path d="M1020.6 919.4H1031.8L1026.2 929.6Z"/><path d="M1024.4 926.9H1035.6L1030 937.1Z"/><path d="M1020.4 934.3H1031.6L1026 944.5Z"/><path d="M1052.7 941.8H1063.9L1058.3 952Z"/><path d="M1062.1 949.2H1073.3L1067.7 959.4Z"/><path d="M1066.4 956.7H1077.6L1072 966.9Z"/><path d="M1069.8 964.1H1081L1075.4 974.3Z"/><path d="M1075.8 971.6H1087L1081.4 981.8Z"/><path d="M1047.5 979.1H1058.7L1053.1 989.2Z"/><path d="M1045 986.5H1056.2L1050.6 996.7Z"/><path d="M1059.5 994H1070.7L1065.1 1004.2Z"/><path d="M1093 1001.4H1104.2L1098.6 1011.6Z"/><path d="M1092.4 1008.9H1103.6L1098 1019.1Z"/><path d="M1041.5 1016.3H1052.7L1047.1 1026.5Z"/><path d="M1059.5 1023.8H1070.7L1065.1 1034Z"/><path d="M1099 1031.2H1110.2L1104.6 1041.4Z"/><path d="M1097.3 1038.7H1108.5L1102.9 1048.9Z"/><path d="M1096.4 1046.1H1107.6L1102 1056.3Z"/></g>
<g fill="none" stroke="#c8202f" stroke-width="2.4"><path d="M219.6 208.7H546.4" stroke-dasharray="4.5 3.9" stroke-dashoffset="3.7"/><path d="M219.6 207.2V313.5" stroke-dasharray="4.5 3.9"/><path d="M546.4 208.7V313.5" stroke-dasharray="4.5 3.9" stroke-dashoffset="6"/><path d="M546.4 313.5H219.6" stroke-dasharray="4.5 3.9" stroke-dashoffset="6"/></g>
<g fill="none" stroke="#c8202f" stroke-width="2.4"><path d="M850 213.4H1209.4" stroke-dasharray="4.5 3.9" stroke-dashoffset="3.7"/><path d="M850 211.9V310.9" stroke-dasharray="4.5 3.9"/><path d="M1209.4 213.4V310.9" stroke-dasharray="4.5 3.9" stroke-dashoffset="6"/><path d="M1209.4 310.9H850" stroke-dasharray="4.5 3.9" stroke-dashoffset="6"/></g>
<g fill="none" stroke="#c8202f" stroke-width="2.4"><path d="M176.5 778.2H428.5" stroke-dasharray="4.5 3.9" stroke-dashoffset="3.7"/><path d="M176.5 776.7V854.7" stroke-dasharray="4.5 3.9"/><path d="M428.5 778.2V854.7" stroke-dasharray="4.5 3.9" stroke-dashoffset="6"/><path d="M428.5 854.7H176.5" stroke-dasharray="4.5 3.9" stroke-dashoffset="6"/></g>
<g fill="none" stroke="#c8202f" stroke-width="2.4"><path d="M879.9 780.4H1126.8" stroke-dasharray="4.5 3.9" stroke-dashoffset="3.7"/><path d="M879.9 778.9V862.4" stroke-dasharray="4.5 3.9"/><path d="M1126.8 780.4V862.4" stroke-dasharray="4.5 3.9" stroke-dashoffset="6"/><path d="M1126.8 862.4H879.9" stroke-dasharray="4.5 3.9" stroke-dashoffset="6"/></g>
<text x="119.8" y="141" font-family='"Liberation Serif", serif' font-weight="bold" font-size="33.5">a</text>
<text x="801.5" y="141" font-family='"Liberation Serif", serif' font-weight="bold" font-size="34">b</text>
<text x="121" y="675.8" font-family='"Liberation Serif", serif' font-weight="bold" font-size="36">c</text>
<text x="801" y="675.3" font-family='"Liberation Sans", sans-serif' font-weight="bold" font-size="35.5">d</text>
<path d="M273.5 1151.8H321.5" stroke="#000" stroke-width="1.3"/>
<circle cx="297.7" cy="1151.8" r="5.6"/>
<text x="333.6" y="1158.1" font-family='"Liberation Serif", serif' font-size="17.6" textLength="216.2" lengthAdjust="spacingAndGlyphs">Early stage of growing season</text>
<path d="M273.5 1174H321.5" stroke="#000" stroke-width="1.3"/>
<circle cx="297.7" cy="1174" r="5" fill="#fff" stroke="#000" stroke-width="1.4"/>
<text x="333.6" y="1180.3" font-family='"Liberation Serif", serif' font-size="17.6" textLength="229.4" lengthAdjust="spacingAndGlyphs">Middle stage of growing season</text>
<path d="M273.5 1196.2H321.5" stroke="#000" stroke-width="1.3"/>
<path d="M291.9 1192.8H303.5L297.7 1202.8Z"/>
<text x="333.6" y="1202.5" font-family='"Liberation Serif", serif' font-size="17.6" textLength="209" lengthAdjust="spacingAndGlyphs">Late stage of growing season</text>
<path d="M927.1 1151.8H975.1" stroke="#000" stroke-width="1.3"/>
<circle cx="951.3" cy="1151.8" r="5.6"/>
<text x="987.2" y="1158.1" font-family='"Liberation Serif", serif' font-size="17.6" textLength="216.2" lengthAdjust="spacingAndGlyphs">Early stage of growing season</text>
<path d="M927.1 1174H975.1" stroke="#000" stroke-width="1.3"/>
<circle cx="951.3" cy="1174" r="5" fill="#fff" stroke="#000" stroke-width="1.4"/>
<text x="987.2" y="1180.3" font-family='"Liberation Serif", serif' font-size="17.6" textLength="229.4" lengthAdjust="spacingAndGlyphs">Middle stage of growing season</text>
<path d="M927.1 1196.2H975.1" stroke="#000" stroke-width="1.3"/>
<path d="M945.5 1192.8H957.1L951.3 1202.8Z"/>
<text x="987.2" y="1202.5" font-family='"Liberation Serif", serif' font-size="17.6" textLength="209" lengthAdjust="spacingAndGlyphs">Late stage of growing season</text>
</svg></body></html>
